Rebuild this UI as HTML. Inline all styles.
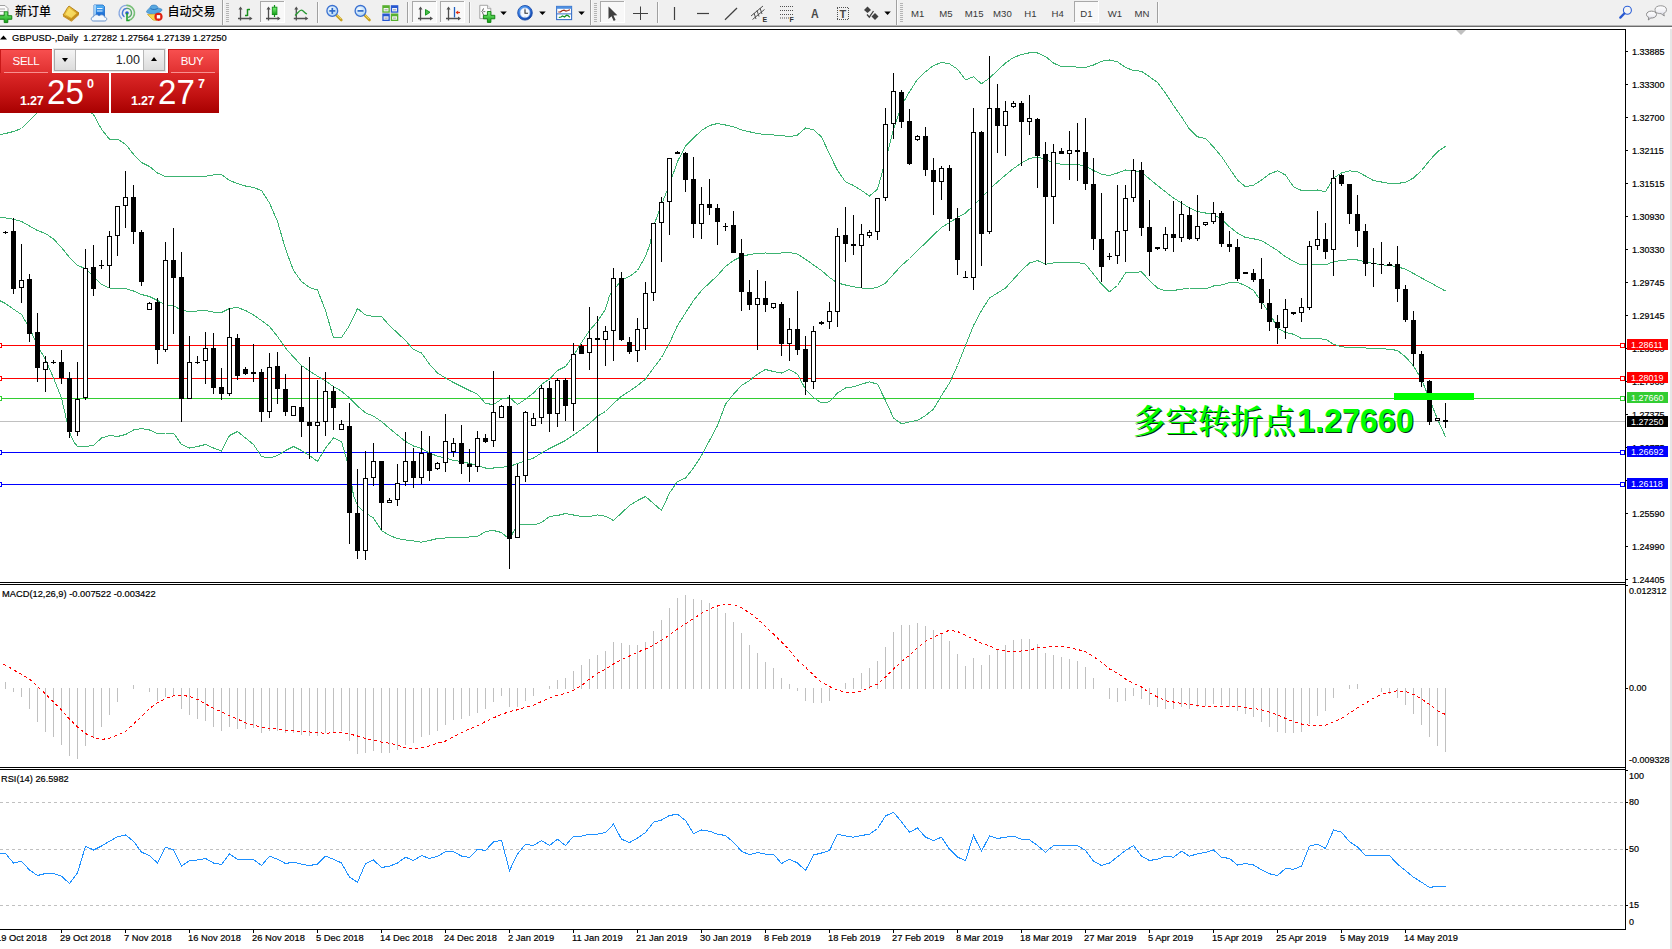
<!DOCTYPE html>
<html><head><meta charset="utf-8"><title>GBPUSD Daily</title>
<style>
html,body{margin:0;padding:0;background:#fff;}
body{width:1672px;height:949px;position:relative;overflow:hidden;font-family:"Liberation Sans","Noto Sans CJK SC",sans-serif;}
.ax,.dt,.ti{position:absolute;font-size:9.9px;line-height:12px;color:#000;white-space:nowrap;transform-origin:0 50%;}
.ax{transform:scaleX(0.908);}
.dt{transform:scaleX(0.945);}
.ax,.dt,.ti{-webkit-text-stroke:0.2px #000;}
.ti{transform:scaleX(0.935);}
.tag{position:absolute;left:1627px;width:41px;height:11px;line-height:11px;font-size:9.9px;color:#fff;white-space:nowrap;}
.tag span{position:absolute;left:3.8px;top:0.3px;transform:scaleX(0.908);transform-origin:0 50%;}
.big{position:absolute;font-weight:bold;color:#00ff00;white-space:nowrap;text-shadow:1px 1px 0 #0a2a14;}
.big.cj{font-family:"Noto Serif CJK SC",serif;font-weight:600;font-size:32.5px;line-height:40px;}
.big.dg{font-family:"Liberation Sans",sans-serif;font-size:34px;line-height:40px;transform:scaleX(0.95);transform-origin:0 0;}
#tb{position:absolute;left:0;top:0;width:1672px;height:25px;background:#f0f0f0;}
#tbl{position:absolute;left:0;top:25px;width:1672px;height:4px;background:linear-gradient(#b8b8b8 0,#b8b8b8 25%,#6c6c6c 25%,#6c6c6c 50%,#fff 50%);}
#oct{position:absolute;left:0;top:49px;width:219px;height:64px;}
#oct .bt{position:absolute;top:0;height:24px;line-height:25px;text-align:center;color:#fff;font-size:11.5px;letter-spacing:-0.3px;background:linear-gradient(#f85050,#e03030);box-shadow:inset 1px 1px 0 #c81818;}
#oct .ul{position:absolute;top:23px;height:1px;background:#f89090;z-index:3;}
#oct .sp{position:absolute;left:54px;top:0;width:111px;height:22px;box-sizing:border-box;border:1px solid #a8a8a8;background:#fff;box-shadow:0 0 0 1px #e8e8e8;}
#oct .sb{position:absolute;top:0;width:20px;height:20px;background:linear-gradient(#f4f4f4,#dcdcdc);}
#oct .sb:first-child{border-right:1px solid #b8b8b8;}
#oct .sb:last-child{border-left:1px solid #b8b8b8;}
#oct .sb i{position:absolute;left:7px;top:8px;width:0;height:0;border-left:3.5px solid transparent;border-right:3.5px solid transparent;}
#oct .sb i.dn{border-top:4px solid #000;}
#oct .sb i.up{border-bottom:4px solid #000;top:7px;}
#oct .sv{position:absolute;left:21px;right:24px;top:0;height:20px;line-height:20px;text-align:right;font-size:12.5px;color:#202020;}
#oct .pb{position:absolute;top:24px;height:40px;background:linear-gradient(#dc2828,#c01010 60%,#a80000);color:#fff;}
#oct .pb span{position:absolute;white-space:nowrap;}
#oct .s1{font-size:12.5px;font-weight:bold;top:21.5px;line-height:12px;letter-spacing:-0.2px;}
#oct .s2{font-size:34.8px;top:1px;line-height:36px;transform:scaleX(0.95);transform-origin:0 0;}
#oct .s3{font-size:12.5px;font-weight:bold;top:4px;line-height:14px;}
</style></head><body>
<svg width="1672" height="949" viewBox="0 0 1672 949" style="position:absolute;left:0;top:0"><rect x="0" y="29" width="1626" height="1" fill="#000"/>
<rect x="1625" y="29" width="1" height="901" fill="#000"/>
<rect x="0" y="582" width="1626" height="1" fill="#000"/>
<rect x="0" y="584" width="1626" height="1" fill="#000"/>
<rect x="0" y="767" width="1626" height="1" fill="#000"/>
<rect x="0" y="769" width="1626" height="1" fill="#000"/>
<rect x="0" y="929" width="1626" height="1" fill="#000"/>
<rect x="1670" y="26" width="2" height="923" fill="#e6e6e6"/>
<rect x="0" y="421" width="1625" height="1" fill="#c0c0c0"/>
<rect x="0" y="345" width="1625" height="1" fill="#ff0000"/>
<rect x="0" y="378" width="1625" height="1" fill="#ff0000"/>
<rect x="0" y="398" width="1625" height="1" fill="#32cd32"/>
<rect x="0" y="452" width="1625" height="1" fill="#0000ff"/>
<rect x="0" y="484" width="1625" height="1" fill="#0000ff"/>
<rect x="1620.5" y="343.5" width="4" height="4" fill="#fff" stroke="#ff0000" stroke-width="1"/>
<rect x="-2.5" y="343.5" width="4" height="4" fill="#fff" stroke="#ff0000" stroke-width="1"/>
<rect x="1620.5" y="376.5" width="4" height="4" fill="#fff" stroke="#ff0000" stroke-width="1"/>
<rect x="-2.5" y="376.5" width="4" height="4" fill="#fff" stroke="#ff0000" stroke-width="1"/>
<rect x="1620.5" y="396.5" width="4" height="4" fill="#fff" stroke="#32cd32" stroke-width="1"/>
<rect x="-2.5" y="396.5" width="4" height="4" fill="#fff" stroke="#32cd32" stroke-width="1"/>
<rect x="1620.5" y="450.5" width="4" height="4" fill="#fff" stroke="#0000ff" stroke-width="1"/>
<rect x="-2.5" y="450.5" width="4" height="4" fill="#fff" stroke="#0000ff" stroke-width="1"/>
<rect x="1620.5" y="482.5" width="4" height="4" fill="#fff" stroke="#0000ff" stroke-width="1"/>
<rect x="-2.5" y="482.5" width="4" height="4" fill="#fff" stroke="#0000ff" stroke-width="1"/>
<g shape-rendering="crispEdges">
<polyline points="-2.5,135.0 5.5,133.5 13.5,131.5 21.5,128.5 29.5,120.5 37.5,112.5 45.5,105.5 53.5,100.5 61.5,98.5 69.5,99.5 77.5,103.5 85.5,108.5 93.5,114.5 101.5,129.2 109.5,139.2 117.5,139.2 125.5,144.2 133.5,154.2 141.5,162.5 149.5,166.5 157.5,173.0 165.5,176.5 173.5,176.5 181.5,176.5 189.5,176.5 197.5,176.5 205.5,176.2 213.5,175.0 221.5,174.5 229.5,180.5 237.5,183.5 245.5,186.0 253.5,187.5 261.5,190.5 269.5,203.0 277.5,221.5 285.5,249.0 293.5,270.5 301.5,281.5 309.5,287.5 317.5,290.0 325.5,310.5 333.5,338.0 341.5,337.5 349.5,325.5 357.5,308.5 365.5,315.0 373.5,316.5 381.5,316.5 389.5,325.5 397.5,333.0 405.5,340.5 413.5,349.5 421.5,353.0 429.5,364.2 437.5,373.0 445.5,378.0 453.5,382.5 461.5,386.5 469.5,390.5 477.5,394.2 485.5,403.5 493.5,404.5 501.5,399.2 509.5,397.5 517.5,404.5 525.5,399.2 533.5,393.0 541.5,384.2 549.5,379.2 557.5,370.5 565.5,366.5 573.5,355.5 581.5,342.5 589.5,330.5 597.5,321.5 605.5,309.2 609.5,295.5 613.5,290.5 621.5,280.0 629.5,276.5 637.5,270.5 645.5,256.5 650.3,243.0 653.5,226.5 661.5,204.5 669.5,184.5 677.5,161.5 685.5,146.0 693.5,138.0 701.5,130.5 709.5,125.5 717.5,123.5 725.5,125.0 733.5,126.8 741.5,129.8 749.5,131.8 757.5,133.5 765.5,134.8 773.5,135.0 781.5,135.5 789.5,136.8 797.5,135.0 805.5,128.0 813.5,129.8 821.5,136.8 829.5,154.2 837.5,170.5 845.5,181.8 853.5,185.5 861.5,190.5 869.5,196.0 877.5,189.2 885.5,160.5 893.5,129.2 901.5,105.5 909.5,91.8 917.5,79.2 925.5,71.8 933.5,65.5 941.5,62.5 949.5,63.8 957.5,69.2 965.5,79.8 973.5,76.8 981.5,83.8 989.5,78.0 997.5,70.5 1005.5,63.0 1013.5,57.5 1021.5,54.5 1029.5,52.8 1037.5,53.0 1045.5,56.5 1053.5,63.0 1061.5,66.8 1069.5,66.2 1077.5,67.2 1085.5,67.5 1093.5,65.0 1101.5,61.2 1109.5,60.0 1117.5,61.8 1125.5,67.5 1133.5,70.5 1141.5,71.2 1149.5,76.8 1157.5,82.5 1165.5,93.0 1173.5,105.5 1181.5,116.8 1189.5,129.2 1197.5,136.8 1205.5,138.5 1213.5,147.0 1221.5,156.5 1229.5,168.5 1237.5,180.0 1245.5,186.8 1253.5,185.2 1261.5,180.0 1269.5,174.0 1277.5,170.8 1285.5,175.0 1293.5,186.8 1301.5,190.5 1309.5,190.8 1317.5,190.0 1325.5,191.8 1333.5,178.0 1341.5,173.0 1349.5,170.8 1357.5,171.8 1365.5,176.0 1373.5,180.5 1381.5,182.0 1389.5,183.5 1397.5,183.5 1405.5,182.2 1413.5,178.0 1421.5,170.5 1429.5,160.5 1437.5,151.8 1445.5,146.2" fill="none" stroke="#3cb371" stroke-width="1"/>
<polyline points="-2.5,217.5 5.5,218.0 13.5,219.2 21.5,221.5 29.5,226.0 37.5,230.5 45.5,233.5 53.5,239.0 61.5,247.5 69.5,257.5 77.5,265.5 85.5,268.5 93.5,276.5 101.5,284.5 109.5,288.0 117.5,288.5 125.5,288.5 133.5,291.0 141.5,294.5 149.5,296.5 157.5,300.5 165.5,305.0 173.5,305.5 181.5,310.5 189.5,311.5 197.5,311.0 205.5,310.5 213.5,312.2 221.5,312.5 229.5,308.5 237.5,307.5 245.5,310.5 253.5,315.0 261.5,320.5 269.5,326.5 277.5,336.5 285.5,348.0 293.5,357.0 301.5,365.5 309.5,371.0 317.5,376.2 325.5,381.0 333.5,386.5 341.5,391.2 349.5,398.0 357.5,406.0 365.5,412.8 373.5,416.2 381.5,421.5 389.5,428.5 397.5,435.0 405.5,441.5 413.5,446.0 421.5,448.5 429.5,453.0 437.5,456.2 445.5,458.0 453.5,460.5 461.5,461.5 469.5,463.5 477.5,465.5 485.5,468.0 493.5,468.0 501.5,467.2 509.5,466.5 517.5,463.5 525.5,461.0 533.5,458.0 541.5,453.0 549.5,448.5 557.5,444.5 565.5,440.5 573.5,435.0 581.5,429.5 589.5,423.5 597.5,416.2 605.5,411.5 613.5,403.5 621.5,396.2 629.5,391.2 637.5,385.5 645.5,379.2 653.5,368.0 661.5,357.5 669.5,343.0 677.5,325.5 685.5,313.0 693.5,300.5 701.5,290.5 709.5,283.0 717.5,275.5 725.5,266.5 733.5,260.5 741.5,256.5 749.5,254.5 757.5,253.5 765.5,253.0 773.5,253.5 781.5,253.0 789.5,252.5 797.5,254.2 805.5,259.2 813.5,265.0 821.5,270.5 829.5,277.5 837.5,283.0 845.5,285.0 853.5,286.8 861.5,288.0 869.5,288.8 877.5,287.5 885.5,283.0 893.5,274.2 901.5,265.5 909.5,258.5 917.5,250.5 925.5,243.0 933.5,235.0 941.5,227.5 949.5,222.5 957.5,217.5 965.5,213.0 973.5,205.5 981.5,198.0 989.5,189.2 997.5,182.0 1005.5,175.0 1013.5,168.5 1021.5,163.0 1029.5,158.5 1037.5,157.0 1045.5,159.2 1053.5,163.2 1061.5,164.2 1069.5,164.0 1077.5,164.5 1085.5,166.0 1093.5,170.5 1101.5,174.2 1109.5,175.5 1117.5,173.0 1125.5,170.0 1133.5,171.0 1141.5,171.8 1149.5,179.0 1157.5,185.5 1165.5,191.8 1173.5,198.0 1181.5,203.0 1189.5,208.0 1197.5,211.5 1205.5,213.0 1213.5,214.5 1221.5,219.2 1229.5,226.8 1237.5,233.0 1245.5,237.5 1253.5,238.8 1261.5,240.5 1269.5,245.5 1277.5,250.5 1285.5,256.8 1293.5,261.2 1301.5,265.0 1309.5,264.8 1317.5,264.2 1325.5,264.8 1333.5,261.8 1341.5,260.5 1349.5,259.8 1357.5,260.0 1365.5,261.8 1373.5,263.5 1381.5,264.8 1389.5,265.5 1397.5,266.8 1405.5,269.2 1413.5,273.5 1421.5,278.0 1429.5,282.2 1437.5,286.8 1445.5,291.0" fill="none" stroke="#3cb371" stroke-width="1"/>
<polyline points="-2.5,299.5 5.5,303.5 13.5,309.2 21.5,314.5 29.5,328.0 37.5,345.5 45.5,359.5 53.5,378.0 61.5,398.0 65.5,415.5 69.5,432.0 73.5,441.5 77.5,446.5 85.5,446.5 93.5,445.5 101.5,438.0 109.5,435.5 117.5,436.5 125.5,434.5 133.5,430.0 141.5,428.5 149.5,430.0 157.5,433.5 165.5,433.0 173.5,433.0 181.5,444.5 189.5,448.0 197.5,446.5 205.5,444.5 213.5,448.0 221.5,451.0 229.5,435.5 237.5,431.5 245.5,438.0 253.5,444.5 261.5,456.5 269.5,458.0 277.5,455.5 285.5,450.5 293.5,446.5 301.5,450.5 309.5,455.5 317.5,461.5 325.5,448.0 333.5,438.0 341.5,441.5 345.5,455.5 349.5,470.5 353.5,495.5 357.5,505.5 365.5,513.0 373.5,518.0 381.5,530.5 389.5,535.5 397.5,538.5 405.5,540.0 413.5,541.0 421.5,542.2 429.5,540.5 437.5,538.5 445.5,538.0 453.5,537.2 461.5,537.2 469.5,537.0 477.5,536.5 485.5,531.5 493.5,530.5 501.5,532.5 509.5,539.2 517.5,524.2 525.5,524.2 533.5,525.0 541.5,522.5 549.5,516.5 557.5,515.5 565.5,513.5 573.5,515.0 581.5,516.5 589.5,516.5 597.5,515.0 605.5,516.2 613.5,520.5 621.5,513.0 629.5,505.5 637.5,500.5 645.5,496.5 653.5,503.5 661.5,510.5 669.5,493.0 677.5,481.5 685.5,478.0 693.5,468.0 701.5,455.5 709.5,440.5 717.5,425.5 725.5,404.2 733.5,394.2 741.5,385.5 749.5,380.5 757.5,374.2 765.5,369.5 773.5,371.5 781.5,373.0 789.5,369.5 797.5,374.2 805.5,389.2 813.5,397.5 821.5,403.0 829.5,401.8 837.5,393.0 845.5,388.0 853.5,386.8 861.5,384.2 869.5,381.8 877.5,384.2 885.5,400.5 893.5,418.0 901.5,423.8 909.5,421.8 917.5,420.5 925.5,415.5 933.5,409.2 941.5,395.5 949.5,383.0 957.5,365.5 965.5,345.5 973.5,325.5 981.5,310.5 989.5,298.0 997.5,293.0 1005.5,288.0 1013.5,279.2 1021.5,270.5 1029.5,263.0 1037.5,260.5 1045.5,264.2 1053.5,263.0 1061.5,262.5 1069.5,262.5 1077.5,262.5 1085.5,264.2 1093.5,274.2 1101.5,284.2 1109.5,291.8 1117.5,285.5 1125.5,273.0 1133.5,272.5 1141.5,271.8 1149.5,280.5 1157.5,288.0 1165.5,291.0 1173.5,290.5 1181.5,289.2 1189.5,288.0 1197.5,288.0 1205.5,288.8 1213.5,286.0 1221.5,285.0 1229.5,282.5 1237.5,282.5 1245.5,285.5 1253.5,290.5 1261.5,301.8 1269.5,313.0 1277.5,328.0 1285.5,332.5 1293.5,334.2 1301.5,338.5 1309.5,338.8 1317.5,338.8 1325.5,339.2 1333.5,344.2 1341.5,346.8 1349.5,347.5 1357.5,347.5 1365.5,348.0 1373.5,348.5 1381.5,348.8 1389.5,349.2 1397.5,350.5 1405.5,356.8 1413.5,366.0 1421.5,379.2 1429.5,399.2 1437.5,419.2 1445.5,436.8" fill="none" stroke="#3cb371" stroke-width="1"/>
</g>
<g><rect x="5" y="231" width="1" height="3" fill="#000"/><rect x="3" y="232" width="5" height="1" fill="#000"/><rect x="13" y="218" width="1" height="76" fill="#000"/><rect x="11" y="231" width="5" height="58" fill="#000"/><rect x="21" y="244" width="1" height="59" fill="#000"/><rect x="19" y="280" width="5" height="8" fill="#000"/><rect x="20" y="281" width="3" height="6" fill="#fff"/><rect x="29" y="274" width="1" height="68" fill="#000"/><rect x="27" y="279" width="5" height="55" fill="#000"/><rect x="37" y="313" width="1" height="69" fill="#000"/><rect x="35" y="332" width="5" height="36" fill="#000"/><rect x="45" y="356" width="1" height="36" fill="#000"/><rect x="43" y="362" width="5" height="8" fill="#000"/><rect x="44" y="363" width="3" height="6" fill="#fff"/><rect x="53" y="360" width="1" height="4" fill="#000"/><rect x="51" y="362" width="5" height="1" fill="#000"/><rect x="61" y="350" width="1" height="34" fill="#000"/><rect x="59" y="362" width="5" height="16" fill="#000"/><rect x="69" y="372" width="1" height="66" fill="#000"/><rect x="67" y="378" width="5" height="54" fill="#000"/><rect x="77" y="362" width="1" height="74" fill="#000"/><rect x="75" y="399" width="5" height="33" fill="#000"/><rect x="76" y="400" width="3" height="31" fill="#fff"/><rect x="85" y="249" width="1" height="151" fill="#000"/><rect x="83" y="268" width="5" height="130" fill="#000"/><rect x="84" y="269" width="3" height="128" fill="#fff"/><rect x="93" y="245" width="1" height="51" fill="#000"/><rect x="91" y="267" width="5" height="22" fill="#000"/><rect x="101" y="260" width="1" height="9" fill="#000"/><rect x="99" y="265" width="5" height="1" fill="#000"/><rect x="109" y="231" width="1" height="57" fill="#000"/><rect x="107" y="236" width="5" height="30" fill="#000"/><rect x="108" y="237" width="3" height="28" fill="#fff"/><rect x="117" y="206" width="1" height="50" fill="#000"/><rect x="115" y="206" width="5" height="30" fill="#000"/><rect x="116" y="207" width="3" height="28" fill="#fff"/><rect x="125" y="171" width="1" height="57" fill="#000"/><rect x="123" y="197" width="5" height="9" fill="#000"/><rect x="124" y="198" width="3" height="7" fill="#fff"/><rect x="133" y="185" width="1" height="59" fill="#000"/><rect x="131" y="197" width="5" height="35" fill="#000"/><rect x="141" y="230" width="1" height="56" fill="#000"/><rect x="139" y="232" width="5" height="50" fill="#000"/><rect x="149" y="302" width="1" height="8" fill="#000"/><rect x="147" y="303" width="5" height="7" fill="#000"/><rect x="148" y="304" width="3" height="5" fill="#fff"/><rect x="157" y="298" width="1" height="66" fill="#000"/><rect x="155" y="302" width="5" height="48" fill="#000"/><rect x="165" y="242" width="1" height="110" fill="#000"/><rect x="163" y="260" width="5" height="90" fill="#000"/><rect x="164" y="261" width="3" height="88" fill="#fff"/><rect x="173" y="228" width="1" height="106" fill="#000"/><rect x="171" y="260" width="5" height="18" fill="#000"/><rect x="181" y="252" width="1" height="170" fill="#000"/><rect x="179" y="277" width="5" height="122" fill="#000"/><rect x="189" y="336" width="1" height="63" fill="#000"/><rect x="187" y="362" width="5" height="37" fill="#000"/><rect x="188" y="363" width="3" height="35" fill="#fff"/><rect x="197" y="356" width="1" height="8" fill="#000"/><rect x="195" y="362" width="5" height="1" fill="#000"/><rect x="205" y="332" width="1" height="52" fill="#000"/><rect x="203" y="348" width="5" height="13" fill="#000"/><rect x="204" y="349" width="3" height="11" fill="#fff"/><rect x="213" y="333" width="1" height="61" fill="#000"/><rect x="211" y="348" width="5" height="40" fill="#000"/><rect x="221" y="368" width="1" height="32" fill="#000"/><rect x="219" y="387" width="5" height="7" fill="#000"/><rect x="229" y="308" width="1" height="88" fill="#000"/><rect x="227" y="337" width="5" height="57" fill="#000"/><rect x="228" y="338" width="3" height="55" fill="#fff"/><rect x="237" y="334" width="1" height="46" fill="#000"/><rect x="235" y="338" width="5" height="38" fill="#000"/><rect x="245" y="367" width="1" height="8" fill="#000"/><rect x="243" y="369" width="5" height="5" fill="#000"/><rect x="253" y="344" width="1" height="38" fill="#000"/><rect x="251" y="372" width="5" height="2" fill="#000"/><rect x="261" y="369" width="1" height="53" fill="#000"/><rect x="259" y="372" width="5" height="40" fill="#000"/><rect x="269" y="353" width="1" height="65" fill="#000"/><rect x="267" y="367" width="5" height="45" fill="#000"/><rect x="268" y="368" width="3" height="43" fill="#fff"/><rect x="277" y="352" width="1" height="52" fill="#000"/><rect x="275" y="366" width="5" height="23" fill="#000"/><rect x="285" y="374" width="1" height="42" fill="#000"/><rect x="283" y="389" width="5" height="23" fill="#000"/><rect x="293" y="406" width="1" height="10" fill="#000"/><rect x="291" y="406" width="5" height="10" fill="#000"/><rect x="292" y="407" width="3" height="8" fill="#fff"/><rect x="301" y="366" width="1" height="71" fill="#000"/><rect x="299" y="407" width="5" height="15" fill="#000"/><rect x="309" y="357" width="1" height="102" fill="#000"/><rect x="307" y="422" width="5" height="4" fill="#000"/><rect x="317" y="380" width="1" height="72" fill="#000"/><rect x="315" y="422" width="5" height="4" fill="#000"/><rect x="316" y="423" width="3" height="2" fill="#fff"/><rect x="325" y="372" width="1" height="64" fill="#000"/><rect x="323" y="391" width="5" height="31" fill="#000"/><rect x="324" y="392" width="3" height="29" fill="#fff"/><rect x="333" y="386" width="1" height="44" fill="#000"/><rect x="331" y="391" width="5" height="17" fill="#000"/><rect x="341" y="420" width="1" height="10" fill="#000"/><rect x="339" y="424" width="5" height="6" fill="#000"/><rect x="340" y="425" width="3" height="4" fill="#fff"/><rect x="349" y="403" width="1" height="141" fill="#000"/><rect x="347" y="426" width="5" height="87" fill="#000"/><rect x="357" y="469" width="1" height="90" fill="#000"/><rect x="355" y="513" width="5" height="38" fill="#000"/><rect x="365" y="451" width="1" height="109" fill="#000"/><rect x="363" y="478" width="5" height="73" fill="#000"/><rect x="364" y="479" width="3" height="71" fill="#fff"/><rect x="373" y="443" width="1" height="43" fill="#000"/><rect x="371" y="461" width="5" height="17" fill="#000"/><rect x="372" y="462" width="3" height="15" fill="#fff"/><rect x="381" y="461" width="1" height="69" fill="#000"/><rect x="379" y="461" width="5" height="42" fill="#000"/><rect x="389" y="498" width="1" height="4" fill="#000"/><rect x="387" y="500" width="5" height="3" fill="#000"/><rect x="388" y="501" width="3" height="1" fill="#fff"/><rect x="397" y="464" width="1" height="42" fill="#000"/><rect x="395" y="483" width="5" height="17" fill="#000"/><rect x="396" y="484" width="3" height="15" fill="#fff"/><rect x="405" y="432" width="1" height="54" fill="#000"/><rect x="403" y="461" width="5" height="21" fill="#000"/><rect x="404" y="462" width="3" height="19" fill="#fff"/><rect x="413" y="448" width="1" height="40" fill="#000"/><rect x="411" y="461" width="5" height="17" fill="#000"/><rect x="421" y="431" width="1" height="53" fill="#000"/><rect x="419" y="453" width="5" height="25" fill="#000"/><rect x="420" y="454" width="3" height="23" fill="#fff"/><rect x="429" y="436" width="1" height="45" fill="#000"/><rect x="427" y="453" width="5" height="18" fill="#000"/><rect x="437" y="462" width="1" height="8" fill="#000"/><rect x="435" y="463" width="5" height="6" fill="#000"/><rect x="436" y="464" width="3" height="4" fill="#fff"/><rect x="445" y="414" width="1" height="58" fill="#000"/><rect x="443" y="441" width="5" height="22" fill="#000"/><rect x="444" y="442" width="3" height="20" fill="#fff"/><rect x="453" y="438" width="1" height="19" fill="#000"/><rect x="451" y="443" width="5" height="9" fill="#000"/><rect x="452" y="444" width="3" height="7" fill="#fff"/><rect x="461" y="425" width="1" height="49" fill="#000"/><rect x="459" y="443" width="5" height="21" fill="#000"/><rect x="469" y="449" width="1" height="33" fill="#000"/><rect x="467" y="464" width="5" height="3" fill="#000"/><rect x="477" y="431" width="1" height="41" fill="#000"/><rect x="475" y="438" width="5" height="29" fill="#000"/><rect x="476" y="439" width="3" height="27" fill="#fff"/><rect x="485" y="434" width="1" height="9" fill="#000"/><rect x="483" y="438" width="5" height="4" fill="#000"/><rect x="493" y="371" width="1" height="76" fill="#000"/><rect x="491" y="412" width="5" height="29" fill="#000"/><rect x="492" y="413" width="3" height="27" fill="#fff"/><rect x="501" y="405" width="1" height="13" fill="#000"/><rect x="499" y="406" width="5" height="12" fill="#000"/><rect x="500" y="407" width="3" height="10" fill="#fff"/><rect x="509" y="395" width="1" height="174" fill="#000"/><rect x="507" y="406" width="5" height="133" fill="#000"/><rect x="517" y="464" width="1" height="74" fill="#000"/><rect x="515" y="476" width="5" height="62" fill="#000"/><rect x="516" y="477" width="3" height="60" fill="#fff"/><rect x="525" y="411" width="1" height="71" fill="#000"/><rect x="523" y="412" width="5" height="64" fill="#000"/><rect x="524" y="413" width="3" height="62" fill="#fff"/><rect x="533" y="413" width="1" height="13" fill="#000"/><rect x="531" y="418" width="5" height="8" fill="#000"/><rect x="532" y="419" width="3" height="6" fill="#fff"/><rect x="541" y="385" width="1" height="39" fill="#000"/><rect x="539" y="388" width="5" height="30" fill="#000"/><rect x="540" y="389" width="3" height="28" fill="#fff"/><rect x="549" y="381" width="1" height="51" fill="#000"/><rect x="547" y="388" width="5" height="26" fill="#000"/><rect x="557" y="378" width="1" height="49" fill="#000"/><rect x="555" y="380" width="5" height="34" fill="#000"/><rect x="556" y="381" width="3" height="32" fill="#fff"/><rect x="565" y="378" width="1" height="43" fill="#000"/><rect x="563" y="380" width="5" height="26" fill="#000"/><rect x="573" y="343" width="1" height="88" fill="#000"/><rect x="571" y="354" width="5" height="50" fill="#000"/><rect x="572" y="355" width="3" height="48" fill="#fff"/><rect x="581" y="344" width="1" height="10" fill="#000"/><rect x="579" y="346" width="5" height="8" fill="#000"/><rect x="589" y="307" width="1" height="63" fill="#000"/><rect x="587" y="338" width="5" height="15" fill="#000"/><rect x="588" y="339" width="3" height="13" fill="#fff"/><rect x="597" y="316" width="1" height="136" fill="#000"/><rect x="595" y="338" width="5" height="2" fill="#000"/><rect x="605" y="326" width="1" height="40" fill="#000"/><rect x="603" y="331" width="5" height="9" fill="#000"/><rect x="604" y="332" width="3" height="7" fill="#fff"/><rect x="613" y="268" width="1" height="93" fill="#000"/><rect x="611" y="278" width="5" height="53" fill="#000"/><rect x="612" y="279" width="3" height="51" fill="#fff"/><rect x="621" y="272" width="1" height="69" fill="#000"/><rect x="619" y="278" width="5" height="62" fill="#000"/><rect x="629" y="337" width="1" height="17" fill="#000"/><rect x="627" y="342" width="5" height="10" fill="#000"/><rect x="637" y="318" width="1" height="44" fill="#000"/><rect x="635" y="329" width="5" height="22" fill="#000"/><rect x="636" y="330" width="3" height="20" fill="#fff"/><rect x="645" y="282" width="1" height="68" fill="#000"/><rect x="643" y="293" width="5" height="36" fill="#000"/><rect x="644" y="294" width="3" height="34" fill="#fff"/><rect x="653" y="223" width="1" height="78" fill="#000"/><rect x="651" y="223" width="5" height="70" fill="#000"/><rect x="652" y="224" width="3" height="68" fill="#fff"/><rect x="661" y="197" width="1" height="65" fill="#000"/><rect x="659" y="202" width="5" height="21" fill="#000"/><rect x="660" y="203" width="3" height="19" fill="#fff"/><rect x="669" y="158" width="1" height="77" fill="#000"/><rect x="667" y="158" width="5" height="44" fill="#000"/><rect x="668" y="159" width="3" height="42" fill="#fff"/><rect x="677" y="151" width="1" height="3" fill="#000"/><rect x="675" y="152" width="5" height="2" fill="#000"/><rect x="685" y="152" width="1" height="40" fill="#000"/><rect x="683" y="153" width="5" height="27" fill="#000"/><rect x="693" y="157" width="1" height="81" fill="#000"/><rect x="691" y="179" width="5" height="45" fill="#000"/><rect x="701" y="187" width="1" height="52" fill="#000"/><rect x="699" y="204" width="5" height="20" fill="#000"/><rect x="700" y="205" width="3" height="18" fill="#fff"/><rect x="709" y="179" width="1" height="36" fill="#000"/><rect x="707" y="204" width="5" height="4" fill="#000"/><rect x="717" y="204" width="1" height="41" fill="#000"/><rect x="715" y="208" width="5" height="14" fill="#000"/><rect x="725" y="223" width="1" height="8" fill="#000"/><rect x="723" y="226" width="5" height="1" fill="#000"/><rect x="733" y="211" width="1" height="42" fill="#000"/><rect x="731" y="225" width="5" height="28" fill="#000"/><rect x="741" y="239" width="1" height="72" fill="#000"/><rect x="739" y="253" width="5" height="39" fill="#000"/><rect x="749" y="280" width="1" height="30" fill="#000"/><rect x="747" y="292" width="5" height="13" fill="#000"/><rect x="757" y="270" width="1" height="80" fill="#000"/><rect x="755" y="298" width="5" height="7" fill="#000"/><rect x="756" y="299" width="3" height="5" fill="#fff"/><rect x="765" y="281" width="1" height="31" fill="#000"/><rect x="763" y="298" width="5" height="7" fill="#000"/><rect x="773" y="303" width="1" height="6" fill="#000"/><rect x="771" y="303" width="5" height="5" fill="#000"/><rect x="772" y="304" width="3" height="3" fill="#fff"/><rect x="781" y="302" width="1" height="54" fill="#000"/><rect x="779" y="304" width="5" height="40" fill="#000"/><rect x="789" y="318" width="1" height="43" fill="#000"/><rect x="787" y="329" width="5" height="15" fill="#000"/><rect x="788" y="330" width="3" height="13" fill="#fff"/><rect x="797" y="291" width="1" height="64" fill="#000"/><rect x="795" y="329" width="5" height="21" fill="#000"/><rect x="805" y="336" width="1" height="59" fill="#000"/><rect x="803" y="349" width="5" height="33" fill="#000"/><rect x="813" y="326" width="1" height="63" fill="#000"/><rect x="811" y="331" width="5" height="51" fill="#000"/><rect x="812" y="332" width="3" height="49" fill="#fff"/><rect x="821" y="321" width="1" height="4" fill="#000"/><rect x="819" y="322" width="5" height="2" fill="#000"/><rect x="829" y="302" width="1" height="27" fill="#000"/><rect x="827" y="311" width="5" height="11" fill="#000"/><rect x="828" y="312" width="3" height="9" fill="#fff"/><rect x="837" y="228" width="1" height="99" fill="#000"/><rect x="835" y="236" width="5" height="76" fill="#000"/><rect x="836" y="237" width="3" height="74" fill="#fff"/><rect x="845" y="207" width="1" height="55" fill="#000"/><rect x="843" y="235" width="5" height="9" fill="#000"/><rect x="853" y="215" width="1" height="40" fill="#000"/><rect x="851" y="244" width="5" height="2" fill="#000"/><rect x="861" y="224" width="1" height="64" fill="#000"/><rect x="859" y="234" width="5" height="12" fill="#000"/><rect x="860" y="235" width="3" height="10" fill="#fff"/><rect x="869" y="230" width="1" height="8" fill="#000"/><rect x="867" y="232" width="5" height="4" fill="#000"/><rect x="868" y="233" width="3" height="2" fill="#fff"/><rect x="877" y="198" width="1" height="42" fill="#000"/><rect x="875" y="198" width="5" height="34" fill="#000"/><rect x="876" y="199" width="3" height="32" fill="#fff"/><rect x="885" y="108" width="1" height="93" fill="#000"/><rect x="883" y="124" width="5" height="74" fill="#000"/><rect x="884" y="125" width="3" height="72" fill="#fff"/><rect x="893" y="73" width="1" height="66" fill="#000"/><rect x="891" y="91" width="5" height="33" fill="#000"/><rect x="892" y="92" width="3" height="31" fill="#fff"/><rect x="901" y="90" width="1" height="38" fill="#000"/><rect x="899" y="92" width="5" height="30" fill="#000"/><rect x="909" y="109" width="1" height="56" fill="#000"/><rect x="907" y="121" width="5" height="43" fill="#000"/><rect x="917" y="135" width="1" height="6" fill="#000"/><rect x="915" y="136" width="5" height="4" fill="#000"/><rect x="916" y="137" width="3" height="2" fill="#fff"/><rect x="925" y="127" width="1" height="49" fill="#000"/><rect x="923" y="136" width="5" height="34" fill="#000"/><rect x="933" y="158" width="1" height="57" fill="#000"/><rect x="931" y="170" width="5" height="12" fill="#000"/><rect x="941" y="166" width="1" height="34" fill="#000"/><rect x="939" y="168" width="5" height="14" fill="#000"/><rect x="940" y="169" width="3" height="12" fill="#fff"/><rect x="949" y="165" width="1" height="66" fill="#000"/><rect x="947" y="168" width="5" height="51" fill="#000"/><rect x="957" y="208" width="1" height="67" fill="#000"/><rect x="955" y="218" width="5" height="42" fill="#000"/><rect x="965" y="271" width="1" height="7" fill="#000"/><rect x="963" y="277" width="5" height="1" fill="#000"/><rect x="973" y="108" width="1" height="182" fill="#000"/><rect x="971" y="132" width="5" height="146" fill="#000"/><rect x="972" y="133" width="3" height="144" fill="#fff"/><rect x="981" y="131" width="1" height="135" fill="#000"/><rect x="979" y="132" width="5" height="102" fill="#000"/><rect x="989" y="56" width="1" height="178" fill="#000"/><rect x="987" y="108" width="5" height="124" fill="#000"/><rect x="988" y="109" width="3" height="122" fill="#fff"/><rect x="997" y="84" width="1" height="69" fill="#000"/><rect x="995" y="108" width="5" height="18" fill="#000"/><rect x="1005" y="101" width="1" height="55" fill="#000"/><rect x="1003" y="111" width="5" height="15" fill="#000"/><rect x="1004" y="112" width="3" height="13" fill="#fff"/><rect x="1013" y="101" width="1" height="7" fill="#000"/><rect x="1011" y="103" width="5" height="4" fill="#000"/><rect x="1012" y="104" width="3" height="2" fill="#fff"/><rect x="1021" y="101" width="1" height="65" fill="#000"/><rect x="1019" y="103" width="5" height="19" fill="#000"/><rect x="1029" y="95" width="1" height="40" fill="#000"/><rect x="1027" y="118" width="5" height="4" fill="#000"/><rect x="1028" y="119" width="3" height="2" fill="#fff"/><rect x="1037" y="118" width="1" height="70" fill="#000"/><rect x="1035" y="119" width="5" height="37" fill="#000"/><rect x="1045" y="142" width="1" height="123" fill="#000"/><rect x="1043" y="154" width="5" height="43" fill="#000"/><rect x="1053" y="144" width="1" height="80" fill="#000"/><rect x="1051" y="152" width="5" height="45" fill="#000"/><rect x="1052" y="153" width="3" height="43" fill="#fff"/><rect x="1061" y="148" width="1" height="6" fill="#000"/><rect x="1059" y="151" width="5" height="3" fill="#000"/><rect x="1069" y="131" width="1" height="49" fill="#000"/><rect x="1067" y="150" width="5" height="4" fill="#000"/><rect x="1068" y="151" width="3" height="2" fill="#fff"/><rect x="1077" y="123" width="1" height="58" fill="#000"/><rect x="1075" y="150" width="5" height="2" fill="#000"/><rect x="1085" y="118" width="1" height="72" fill="#000"/><rect x="1083" y="152" width="5" height="32" fill="#000"/><rect x="1093" y="158" width="1" height="92" fill="#000"/><rect x="1091" y="184" width="5" height="55" fill="#000"/><rect x="1101" y="193" width="1" height="89" fill="#000"/><rect x="1099" y="239" width="5" height="28" fill="#000"/><rect x="1109" y="253" width="1" height="7" fill="#000"/><rect x="1107" y="256" width="5" height="1" fill="#000"/><rect x="1117" y="185" width="1" height="79" fill="#000"/><rect x="1115" y="231" width="5" height="25" fill="#000"/><rect x="1116" y="232" width="3" height="23" fill="#fff"/><rect x="1125" y="185" width="1" height="77" fill="#000"/><rect x="1123" y="198" width="5" height="33" fill="#000"/><rect x="1124" y="199" width="3" height="31" fill="#fff"/><rect x="1133" y="159" width="1" height="43" fill="#000"/><rect x="1131" y="170" width="5" height="28" fill="#000"/><rect x="1132" y="171" width="3" height="26" fill="#fff"/><rect x="1141" y="162" width="1" height="74" fill="#000"/><rect x="1139" y="170" width="5" height="58" fill="#000"/><rect x="1149" y="200" width="1" height="76" fill="#000"/><rect x="1147" y="227" width="5" height="25" fill="#000"/><rect x="1157" y="247" width="1" height="3" fill="#000"/><rect x="1155" y="247" width="5" height="2" fill="#000"/><rect x="1165" y="227" width="1" height="24" fill="#000"/><rect x="1163" y="234" width="5" height="15" fill="#000"/><rect x="1164" y="235" width="3" height="13" fill="#fff"/><rect x="1173" y="201" width="1" height="51" fill="#000"/><rect x="1171" y="234" width="5" height="4" fill="#000"/><rect x="1181" y="201" width="1" height="41" fill="#000"/><rect x="1179" y="214" width="5" height="24" fill="#000"/><rect x="1180" y="215" width="3" height="22" fill="#fff"/><rect x="1189" y="207" width="1" height="33" fill="#000"/><rect x="1187" y="215" width="5" height="24" fill="#000"/><rect x="1197" y="195" width="1" height="46" fill="#000"/><rect x="1195" y="226" width="5" height="13" fill="#000"/><rect x="1196" y="227" width="3" height="11" fill="#fff"/><rect x="1205" y="222" width="1" height="4" fill="#000"/><rect x="1203" y="222" width="5" height="3" fill="#000"/><rect x="1204" y="223" width="3" height="1" fill="#fff"/><rect x="1213" y="202" width="1" height="22" fill="#000"/><rect x="1211" y="213" width="5" height="9" fill="#000"/><rect x="1212" y="214" width="3" height="7" fill="#fff"/><rect x="1221" y="211" width="1" height="36" fill="#000"/><rect x="1219" y="213" width="5" height="31" fill="#000"/><rect x="1229" y="231" width="1" height="21" fill="#000"/><rect x="1227" y="244" width="5" height="3" fill="#000"/><rect x="1237" y="239" width="1" height="42" fill="#000"/><rect x="1235" y="247" width="5" height="32" fill="#000"/><rect x="1245" y="272" width="1" height="2" fill="#000"/><rect x="1243" y="272" width="5" height="2" fill="#000"/><rect x="1253" y="269" width="1" height="13" fill="#000"/><rect x="1251" y="273" width="5" height="7" fill="#000"/><rect x="1261" y="258" width="1" height="51" fill="#000"/><rect x="1259" y="279" width="5" height="24" fill="#000"/><rect x="1269" y="289" width="1" height="42" fill="#000"/><rect x="1267" y="303" width="5" height="19" fill="#000"/><rect x="1277" y="315" width="1" height="29" fill="#000"/><rect x="1275" y="322" width="5" height="6" fill="#000"/><rect x="1285" y="299" width="1" height="40" fill="#000"/><rect x="1283" y="309" width="5" height="19" fill="#000"/><rect x="1284" y="310" width="3" height="17" fill="#fff"/><rect x="1293" y="312" width="1" height="3" fill="#000"/><rect x="1291" y="312" width="5" height="2" fill="#000"/><rect x="1301" y="298" width="1" height="24" fill="#000"/><rect x="1299" y="307" width="5" height="6" fill="#000"/><rect x="1300" y="308" width="3" height="4" fill="#fff"/><rect x="1309" y="241" width="1" height="69" fill="#000"/><rect x="1307" y="246" width="5" height="62" fill="#000"/><rect x="1308" y="247" width="3" height="60" fill="#fff"/><rect x="1317" y="211" width="1" height="39" fill="#000"/><rect x="1315" y="239" width="5" height="7" fill="#000"/><rect x="1316" y="240" width="3" height="5" fill="#fff"/><rect x="1325" y="223" width="1" height="36" fill="#000"/><rect x="1323" y="239" width="5" height="13" fill="#000"/><rect x="1333" y="170" width="1" height="106" fill="#000"/><rect x="1331" y="178" width="5" height="72" fill="#000"/><rect x="1332" y="179" width="3" height="70" fill="#fff"/><rect x="1341" y="174" width="1" height="12" fill="#000"/><rect x="1339" y="175" width="5" height="9" fill="#000"/><rect x="1349" y="184" width="1" height="40" fill="#000"/><rect x="1347" y="184" width="5" height="30" fill="#000"/><rect x="1357" y="195" width="1" height="52" fill="#000"/><rect x="1355" y="214" width="5" height="17" fill="#000"/><rect x="1365" y="224" width="1" height="52" fill="#000"/><rect x="1363" y="231" width="5" height="33" fill="#000"/><rect x="1373" y="248" width="1" height="39" fill="#000"/><rect x="1371" y="263" width="5" height="1" fill="#000"/><rect x="1381" y="242" width="1" height="32" fill="#000"/><rect x="1379" y="264" width="5" height="1" fill="#000"/><rect x="1389" y="262" width="1" height="4" fill="#000"/><rect x="1387" y="264" width="5" height="2" fill="#000"/><rect x="1397" y="246" width="1" height="56" fill="#000"/><rect x="1395" y="264" width="5" height="25" fill="#000"/><rect x="1405" y="285" width="1" height="37" fill="#000"/><rect x="1403" y="289" width="5" height="31" fill="#000"/><rect x="1413" y="311" width="1" height="55" fill="#000"/><rect x="1411" y="320" width="5" height="34" fill="#000"/><rect x="1421" y="351" width="1" height="36" fill="#000"/><rect x="1419" y="354" width="5" height="28" fill="#000"/><rect x="1429" y="380" width="1" height="45" fill="#000"/><rect x="1427" y="381" width="5" height="41" fill="#000"/><rect x="1437" y="418" width="1" height="3" fill="#000"/><rect x="1435" y="418" width="5" height="3" fill="#000"/><rect x="1436" y="419" width="3" height="1" fill="#fff"/><rect x="1445" y="403" width="1" height="25" fill="#000"/><rect x="1443" y="420" width="5" height="2" fill="#000"/></g>
<rect x="1394" y="393" width="80" height="7" fill="#00ff00"/>
<g><rect x="5" y="682" width="1" height="7" fill="#c0c0c0"/><rect x="13" y="688" width="1" height="4" fill="#c0c0c0"/><rect x="21" y="688" width="1" height="9" fill="#c0c0c0"/><rect x="29" y="688" width="1" height="21" fill="#c0c0c0"/><rect x="37" y="688" width="1" height="34" fill="#c0c0c0"/><rect x="45" y="688" width="1" height="44" fill="#c0c0c0"/><rect x="53" y="688" width="1" height="49" fill="#c0c0c0"/><rect x="61" y="688" width="1" height="57" fill="#c0c0c0"/><rect x="69" y="688" width="1" height="68" fill="#c0c0c0"/><rect x="77" y="688" width="1" height="71" fill="#c0c0c0"/><rect x="85" y="688" width="1" height="58" fill="#c0c0c0"/><rect x="93" y="688" width="1" height="49" fill="#c0c0c0"/><rect x="101" y="688" width="1" height="39" fill="#c0c0c0"/><rect x="109" y="688" width="1" height="27" fill="#c0c0c0"/><rect x="117" y="688" width="1" height="14" fill="#c0c0c0"/><rect x="133" y="685" width="1" height="4" fill="#c0c0c0"/><rect x="149" y="688" width="1" height="4" fill="#c0c0c0"/><rect x="157" y="688" width="1" height="13" fill="#c0c0c0"/><rect x="165" y="688" width="1" height="9" fill="#c0c0c0"/><rect x="173" y="688" width="1" height="7" fill="#c0c0c0"/><rect x="181" y="688" width="1" height="21" fill="#c0c0c0"/><rect x="189" y="688" width="1" height="27" fill="#c0c0c0"/><rect x="197" y="688" width="1" height="31" fill="#c0c0c0"/><rect x="205" y="688" width="1" height="33" fill="#c0c0c0"/><rect x="213" y="688" width="1" height="39" fill="#c0c0c0"/><rect x="221" y="688" width="1" height="43" fill="#c0c0c0"/><rect x="229" y="688" width="1" height="39" fill="#c0c0c0"/><rect x="237" y="688" width="1" height="41" fill="#c0c0c0"/><rect x="245" y="688" width="1" height="41" fill="#c0c0c0"/><rect x="253" y="688" width="1" height="40" fill="#c0c0c0"/><rect x="261" y="688" width="1" height="45" fill="#c0c0c0"/><rect x="269" y="688" width="1" height="43" fill="#c0c0c0"/><rect x="277" y="688" width="1" height="43" fill="#c0c0c0"/><rect x="285" y="688" width="1" height="45" fill="#c0c0c0"/><rect x="293" y="688" width="1" height="45" fill="#c0c0c0"/><rect x="301" y="688" width="1" height="47" fill="#c0c0c0"/><rect x="309" y="688" width="1" height="48" fill="#c0c0c0"/><rect x="317" y="688" width="1" height="48" fill="#c0c0c0"/><rect x="325" y="688" width="1" height="45" fill="#c0c0c0"/><rect x="333" y="688" width="1" height="44" fill="#c0c0c0"/><rect x="341" y="688" width="1" height="43" fill="#c0c0c0"/><rect x="349" y="688" width="1" height="53" fill="#c0c0c0"/><rect x="357" y="688" width="1" height="66" fill="#c0c0c0"/><rect x="365" y="688" width="1" height="65" fill="#c0c0c0"/><rect x="373" y="688" width="1" height="63" fill="#c0c0c0"/><rect x="381" y="688" width="1" height="65" fill="#c0c0c0"/><rect x="389" y="688" width="1" height="65" fill="#c0c0c0"/><rect x="397" y="688" width="1" height="62" fill="#c0c0c0"/><rect x="405" y="688" width="1" height="57" fill="#c0c0c0"/><rect x="413" y="688" width="1" height="55" fill="#c0c0c0"/><rect x="421" y="688" width="1" height="49" fill="#c0c0c0"/><rect x="429" y="688" width="1" height="47" fill="#c0c0c0"/><rect x="437" y="688" width="1" height="43" fill="#c0c0c0"/><rect x="445" y="688" width="1" height="37" fill="#c0c0c0"/><rect x="453" y="688" width="1" height="32" fill="#c0c0c0"/><rect x="461" y="688" width="1" height="31" fill="#c0c0c0"/><rect x="469" y="688" width="1" height="28" fill="#c0c0c0"/><rect x="477" y="688" width="1" height="25" fill="#c0c0c0"/><rect x="485" y="688" width="1" height="21" fill="#c0c0c0"/><rect x="493" y="688" width="1" height="14" fill="#c0c0c0"/><rect x="501" y="688" width="1" height="8" fill="#c0c0c0"/><rect x="509" y="688" width="1" height="19" fill="#c0c0c0"/><rect x="517" y="688" width="1" height="19" fill="#c0c0c0"/><rect x="525" y="688" width="1" height="13" fill="#c0c0c0"/><rect x="533" y="688" width="1" height="8" fill="#c0c0c0"/><rect x="549" y="686" width="1" height="3" fill="#c0c0c0"/><rect x="557" y="680" width="1" height="9" fill="#c0c0c0"/><rect x="565" y="678" width="1" height="11" fill="#c0c0c0"/><rect x="573" y="671" width="1" height="18" fill="#c0c0c0"/><rect x="581" y="665" width="1" height="24" fill="#c0c0c0"/><rect x="589" y="659" width="1" height="30" fill="#c0c0c0"/><rect x="597" y="655" width="1" height="34" fill="#c0c0c0"/><rect x="605" y="651" width="1" height="38" fill="#c0c0c0"/><rect x="613" y="642" width="1" height="47" fill="#c0c0c0"/><rect x="621" y="643" width="1" height="46" fill="#c0c0c0"/><rect x="629" y="645" width="1" height="44" fill="#c0c0c0"/><rect x="637" y="645" width="1" height="44" fill="#c0c0c0"/><rect x="645" y="642" width="1" height="47" fill="#c0c0c0"/><rect x="653" y="631" width="1" height="58" fill="#c0c0c0"/><rect x="661" y="620" width="1" height="69" fill="#c0c0c0"/><rect x="669" y="608" width="1" height="81" fill="#c0c0c0"/><rect x="677" y="598" width="1" height="91" fill="#c0c0c0"/><rect x="685" y="595" width="1" height="94" fill="#c0c0c0"/><rect x="693" y="599" width="1" height="90" fill="#c0c0c0"/><rect x="701" y="600" width="1" height="89" fill="#c0c0c0"/><rect x="709" y="603" width="1" height="86" fill="#c0c0c0"/><rect x="717" y="608" width="1" height="81" fill="#c0c0c0"/><rect x="725" y="613" width="1" height="76" fill="#c0c0c0"/><rect x="733" y="622" width="1" height="67" fill="#c0c0c0"/><rect x="741" y="633" width="1" height="56" fill="#c0c0c0"/><rect x="749" y="645" width="1" height="44" fill="#c0c0c0"/><rect x="757" y="653" width="1" height="36" fill="#c0c0c0"/><rect x="765" y="662" width="1" height="27" fill="#c0c0c0"/><rect x="773" y="668" width="1" height="21" fill="#c0c0c0"/><rect x="781" y="678" width="1" height="11" fill="#c0c0c0"/><rect x="789" y="684" width="1" height="5" fill="#c0c0c0"/><rect x="797" y="688" width="1" height="3" fill="#c0c0c0"/><rect x="805" y="688" width="1" height="13" fill="#c0c0c0"/><rect x="813" y="688" width="1" height="15" fill="#c0c0c0"/><rect x="821" y="688" width="1" height="15" fill="#c0c0c0"/><rect x="829" y="688" width="1" height="13" fill="#c0c0c0"/><rect x="845" y="683" width="1" height="6" fill="#c0c0c0"/><rect x="853" y="678" width="1" height="11" fill="#c0c0c0"/><rect x="861" y="673" width="1" height="16" fill="#c0c0c0"/><rect x="869" y="668" width="1" height="21" fill="#c0c0c0"/><rect x="877" y="661" width="1" height="28" fill="#c0c0c0"/><rect x="885" y="647" width="1" height="42" fill="#c0c0c0"/><rect x="893" y="632" width="1" height="57" fill="#c0c0c0"/><rect x="901" y="625" width="1" height="64" fill="#c0c0c0"/><rect x="909" y="625" width="1" height="64" fill="#c0c0c0"/><rect x="917" y="623" width="1" height="66" fill="#c0c0c0"/><rect x="925" y="626" width="1" height="63" fill="#c0c0c0"/><rect x="933" y="630" width="1" height="59" fill="#c0c0c0"/><rect x="941" y="634" width="1" height="55" fill="#c0c0c0"/><rect x="949" y="641" width="1" height="48" fill="#c0c0c0"/><rect x="957" y="654" width="1" height="35" fill="#c0c0c0"/><rect x="965" y="666" width="1" height="23" fill="#c0c0c0"/><rect x="973" y="658" width="1" height="31" fill="#c0c0c0"/><rect x="981" y="665" width="1" height="24" fill="#c0c0c0"/><rect x="989" y="655" width="1" height="34" fill="#c0c0c0"/><rect x="997" y="650" width="1" height="39" fill="#c0c0c0"/><rect x="1005" y="645" width="1" height="44" fill="#c0c0c0"/><rect x="1013" y="640" width="1" height="49" fill="#c0c0c0"/><rect x="1021" y="639" width="1" height="50" fill="#c0c0c0"/><rect x="1029" y="639" width="1" height="50" fill="#c0c0c0"/><rect x="1037" y="644" width="1" height="45" fill="#c0c0c0"/><rect x="1045" y="653" width="1" height="36" fill="#c0c0c0"/><rect x="1053" y="655" width="1" height="34" fill="#c0c0c0"/><rect x="1061" y="657" width="1" height="32" fill="#c0c0c0"/><rect x="1069" y="659" width="1" height="30" fill="#c0c0c0"/><rect x="1077" y="661" width="1" height="28" fill="#c0c0c0"/><rect x="1085" y="667" width="1" height="22" fill="#c0c0c0"/><rect x="1093" y="678" width="1" height="11" fill="#c0c0c0"/><rect x="1109" y="688" width="1" height="11" fill="#c0c0c0"/><rect x="1117" y="688" width="1" height="14" fill="#c0c0c0"/><rect x="1125" y="688" width="1" height="13" fill="#c0c0c0"/><rect x="1133" y="688" width="1" height="8" fill="#c0c0c0"/><rect x="1141" y="688" width="1" height="11" fill="#c0c0c0"/><rect x="1149" y="688" width="1" height="17" fill="#c0c0c0"/><rect x="1157" y="688" width="1" height="19" fill="#c0c0c0"/><rect x="1165" y="688" width="1" height="21" fill="#c0c0c0"/><rect x="1173" y="688" width="1" height="21" fill="#c0c0c0"/><rect x="1181" y="688" width="1" height="19" fill="#c0c0c0"/><rect x="1189" y="688" width="1" height="21" fill="#c0c0c0"/><rect x="1197" y="688" width="1" height="19" fill="#c0c0c0"/><rect x="1205" y="688" width="1" height="18" fill="#c0c0c0"/><rect x="1213" y="688" width="1" height="16" fill="#c0c0c0"/><rect x="1221" y="688" width="1" height="17" fill="#c0c0c0"/><rect x="1229" y="688" width="1" height="19" fill="#c0c0c0"/><rect x="1237" y="688" width="1" height="23" fill="#c0c0c0"/><rect x="1245" y="688" width="1" height="26" fill="#c0c0c0"/><rect x="1253" y="688" width="1" height="29" fill="#c0c0c0"/><rect x="1261" y="688" width="1" height="34" fill="#c0c0c0"/><rect x="1269" y="688" width="1" height="39" fill="#c0c0c0"/><rect x="1277" y="688" width="1" height="44" fill="#c0c0c0"/><rect x="1285" y="688" width="1" height="45" fill="#c0c0c0"/><rect x="1293" y="688" width="1" height="45" fill="#c0c0c0"/><rect x="1301" y="688" width="1" height="44" fill="#c0c0c0"/><rect x="1309" y="688" width="1" height="36" fill="#c0c0c0"/><rect x="1317" y="688" width="1" height="28" fill="#c0c0c0"/><rect x="1325" y="688" width="1" height="23" fill="#c0c0c0"/><rect x="1333" y="688" width="1" height="10" fill="#c0c0c0"/><rect x="1349" y="685" width="1" height="4" fill="#c0c0c0"/><rect x="1357" y="684" width="1" height="5" fill="#c0c0c0"/><rect x="1381" y="688" width="1" height="4" fill="#c0c0c0"/><rect x="1389" y="688" width="1" height="6" fill="#c0c0c0"/><rect x="1397" y="688" width="1" height="10" fill="#c0c0c0"/><rect x="1405" y="688" width="1" height="17" fill="#c0c0c0"/><rect x="1413" y="688" width="1" height="26" fill="#c0c0c0"/><rect x="1421" y="688" width="1" height="37" fill="#c0c0c0"/><rect x="1429" y="688" width="1" height="49" fill="#c0c0c0"/><rect x="1437" y="688" width="1" height="58" fill="#c0c0c0"/><rect x="1445" y="688" width="1" height="64" fill="#c0c0c0"/></g>
<polyline shape-rendering="crispEdges" points="-2.5,663.5 5.5,665.2 13.5,669.8 21.5,674.5 29.5,679.0 37.5,686.5 45.5,694.0 53.5,702.0 61.5,710.2 69.5,719.0 77.5,727.0 85.5,733.5 93.5,737.2 101.5,739.5 109.5,738.2 117.5,735.2 125.5,731.5 133.5,724.0 141.5,716.5 149.5,708.5 157.5,702.8 165.5,698.5 173.5,695.8 181.5,695.2 189.5,696.5 197.5,699.5 205.5,704.0 213.5,708.2 221.5,712.0 229.5,715.8 237.5,719.0 245.5,722.8 253.5,725.2 261.5,727.2 269.5,728.2 277.5,729.0 285.5,730.2 293.5,730.8 301.5,731.5 309.5,732.0 317.5,732.8 325.5,733.2 333.5,732.8 341.5,732.8 349.5,734.0 357.5,736.0 365.5,738.5 373.5,740.2 381.5,742.2 389.5,743.2 397.5,745.2 405.5,747.8 413.5,748.5 421.5,747.8 429.5,746.0 437.5,743.2 445.5,741.0 453.5,736.5 461.5,732.8 469.5,729.0 477.5,725.8 485.5,721.5 493.5,717.8 501.5,714.5 509.5,711.5 517.5,709.8 525.5,707.2 533.5,705.2 541.5,701.5 549.5,698.2 557.5,695.2 565.5,693.5 573.5,690.2 581.5,685.8 589.5,679.0 597.5,673.5 605.5,669.0 613.5,664.0 621.5,659.5 629.5,656.0 637.5,652.2 645.5,649.0 653.5,645.2 661.5,640.2 669.5,635.2 677.5,629.0 685.5,624.0 693.5,618.5 701.5,613.5 709.5,609.0 717.5,606.0 725.5,604.5 733.5,604.5 741.5,607.8 749.5,612.8 757.5,619.0 765.5,626.5 773.5,634.0 781.5,642.0 789.5,650.2 797.5,660.2 805.5,667.2 813.5,675.2 821.5,682.2 829.5,686.5 837.5,690.2 845.5,692.2 853.5,692.2 861.5,691.0 869.5,687.2 877.5,684.0 885.5,677.0 893.5,669.0 901.5,661.5 909.5,655.2 917.5,647.8 925.5,641.5 933.5,637.0 941.5,633.5 949.5,630.2 957.5,631.5 965.5,635.2 973.5,639.0 981.5,643.2 989.5,645.8 997.5,649.8 1005.5,651.0 1013.5,652.0 1021.5,651.0 1029.5,650.2 1037.5,647.8 1045.5,647.2 1053.5,646.5 1061.5,646.5 1069.5,647.8 1077.5,649.5 1085.5,651.5 1093.5,656.5 1101.5,662.2 1109.5,669.0 1117.5,673.2 1125.5,679.0 1133.5,683.2 1141.5,687.0 1149.5,692.8 1157.5,697.0 1165.5,700.8 1173.5,702.0 1181.5,703.5 1189.5,704.5 1197.5,705.8 1205.5,706.2 1213.5,706.2 1221.5,706.2 1229.5,706.2 1237.5,706.5 1245.5,707.5 1253.5,708.5 1261.5,709.8 1269.5,712.2 1277.5,714.8 1285.5,718.5 1293.5,721.5 1301.5,724.0 1309.5,725.2 1317.5,725.2 1325.5,725.2 1333.5,722.2 1341.5,718.5 1349.5,713.2 1357.5,707.8 1365.5,703.2 1373.5,698.2 1381.5,694.5 1389.5,692.2 1397.5,690.8 1405.5,691.5 1413.5,694.5 1421.5,699.0 1429.5,704.5 1437.5,710.8 1445.5,714.5" fill="none" stroke="#ff0000" stroke-width="1" stroke-dasharray="3 3"/>
<line x1="0" y1="802.5" x2="1625" y2="802.5" stroke="#c0c0c0" stroke-width="1" stroke-dasharray="3 3" shape-rendering="crispEdges"/>
<line x1="0" y1="849.5" x2="1625" y2="849.5" stroke="#c0c0c0" stroke-width="1" stroke-dasharray="3 3" shape-rendering="crispEdges"/>
<line x1="0" y1="905.5" x2="1625" y2="905.5" stroke="#c0c0c0" stroke-width="1" stroke-dasharray="3 3" shape-rendering="crispEdges"/>
<polyline shape-rendering="crispEdges" points="-2.5,853.5 5.5,853.5 13.5,863.0 21.5,861.2 29.5,870.0 37.5,875.5 45.5,873.5 53.5,873.5 61.5,876.2 69.5,883.5 77.5,873.0 85.5,846.2 93.5,850.0 101.5,846.0 109.5,841.2 117.5,836.8 125.5,835.0 133.5,841.2 141.5,852.2 149.5,855.5 157.5,863.0 165.5,847.2 173.5,849.8 181.5,866.2 189.5,860.5 197.5,860.0 205.5,858.5 213.5,863.0 221.5,864.5 229.5,853.8 237.5,859.5 245.5,859.5 253.5,859.5 261.5,865.5 269.5,856.2 277.5,859.2 285.5,863.5 293.5,862.2 301.5,864.2 309.5,865.5 317.5,864.2 325.5,856.2 333.5,859.2 341.5,863.0 349.5,877.2 357.5,882.2 365.5,863.5 373.5,860.0 381.5,867.5 389.5,866.2 397.5,863.0 405.5,857.2 413.5,860.5 421.5,855.5 429.5,858.5 437.5,856.2 445.5,851.8 453.5,851.8 461.5,856.0 469.5,857.5 477.5,849.2 485.5,850.5 493.5,841.8 501.5,840.5 509.5,870.5 517.5,854.2 525.5,844.2 533.5,845.5 541.5,840.5 549.5,845.5 557.5,839.2 565.5,845.5 573.5,836.2 581.5,836.2 589.5,834.2 597.5,834.2 605.5,832.5 613.5,824.2 621.5,839.2 629.5,842.5 637.5,838.0 645.5,832.5 653.5,822.2 661.5,820.0 669.5,815.5 677.5,814.2 685.5,820.5 693.5,833.5 701.5,830.0 709.5,831.2 717.5,834.2 725.5,835.5 733.5,842.2 741.5,851.2 749.5,854.8 757.5,852.5 765.5,854.2 773.5,854.2 781.5,863.5 789.5,859.2 797.5,863.0 805.5,870.5 813.5,855.0 821.5,853.0 829.5,850.5 837.5,834.2 845.5,836.0 853.5,837.2 861.5,835.5 869.5,834.2 877.5,828.5 885.5,816.0 893.5,812.2 901.5,821.8 909.5,832.2 917.5,828.0 925.5,837.2 933.5,840.5 941.5,837.2 949.5,849.2 957.5,857.2 965.5,860.5 973.5,835.5 981.5,851.2 989.5,836.0 997.5,838.5 1005.5,837.2 1013.5,836.2 1021.5,839.2 1029.5,839.8 1037.5,845.5 1045.5,852.2 1053.5,845.5 1061.5,845.5 1069.5,845.5 1077.5,845.5 1085.5,850.5 1093.5,861.0 1101.5,865.5 1109.5,863.0 1117.5,856.8 1125.5,850.5 1133.5,845.5 1141.5,856.2 1149.5,860.5 1157.5,859.2 1165.5,856.2 1173.5,857.2 1181.5,851.2 1189.5,856.2 1197.5,853.8 1205.5,852.5 1213.5,850.0 1221.5,857.2 1229.5,858.5 1237.5,865.0 1245.5,863.5 1253.5,865.0 1261.5,869.8 1269.5,873.8 1277.5,875.5 1285.5,868.5 1293.5,869.2 1301.5,866.2 1309.5,846.2 1317.5,844.2 1325.5,848.5 1333.5,830.0 1341.5,832.2 1349.5,841.8 1357.5,846.8 1365.5,855.5 1373.5,855.5 1381.5,855.5 1389.5,855.5 1397.5,864.2 1405.5,870.5 1413.5,877.2 1421.5,882.2 1429.5,887.5 1437.5,886.2 1445.5,886.2" fill="none" stroke="#1e90ff" stroke-width="1"/>
<rect x="1626" y="51" width="2" height="1" fill="#000"/>
<rect x="1626" y="84" width="2" height="1" fill="#000"/>
<rect x="1626" y="117" width="2" height="1" fill="#000"/>
<rect x="1626" y="150" width="2" height="1" fill="#000"/>
<rect x="1626" y="183" width="2" height="1" fill="#000"/>
<rect x="1626" y="216" width="2" height="1" fill="#000"/>
<rect x="1626" y="249" width="2" height="1" fill="#000"/>
<rect x="1626" y="282" width="2" height="1" fill="#000"/>
<rect x="1626" y="315" width="2" height="1" fill="#000"/>
<rect x="1626" y="348" width="2" height="1" fill="#000"/>
<rect x="1626" y="381" width="2" height="1" fill="#000"/>
<rect x="1626" y="414" width="2" height="1" fill="#000"/>
<rect x="1626" y="447" width="2" height="1" fill="#000"/>
<rect x="1626" y="480" width="2" height="1" fill="#000"/>
<rect x="1626" y="513" width="2" height="1" fill="#000"/>
<rect x="1626" y="546" width="2" height="1" fill="#000"/>
<rect x="1626" y="579" width="2" height="1" fill="#000"/>
<rect x="1626" y="585" width="2" height="1" fill="#000"/>
<rect x="1626" y="688" width="2" height="1" fill="#000"/>
<rect x="1626" y="770" width="2" height="1" fill="#000"/>
<rect x="1626" y="802" width="2" height="1" fill="#000"/>
<rect x="1626" y="849" width="2" height="1" fill="#000"/>
<rect x="1626" y="905" width="2" height="1" fill="#000"/>
<rect x="-3" y="930" width="1" height="3" fill="#000"/>
<rect x="61" y="930" width="1" height="3" fill="#000"/>
<rect x="125" y="930" width="1" height="3" fill="#000"/>
<rect x="189" y="930" width="1" height="3" fill="#000"/>
<rect x="253" y="930" width="1" height="3" fill="#000"/>
<rect x="317" y="930" width="1" height="3" fill="#000"/>
<rect x="381" y="930" width="1" height="3" fill="#000"/>
<rect x="445" y="930" width="1" height="3" fill="#000"/>
<rect x="509" y="930" width="1" height="3" fill="#000"/>
<rect x="573" y="930" width="1" height="3" fill="#000"/>
<rect x="637" y="930" width="1" height="3" fill="#000"/>
<rect x="701" y="930" width="1" height="3" fill="#000"/>
<rect x="765" y="930" width="1" height="3" fill="#000"/>
<rect x="829" y="930" width="1" height="3" fill="#000"/>
<rect x="893" y="930" width="1" height="3" fill="#000"/>
<rect x="957" y="930" width="1" height="3" fill="#000"/>
<rect x="1021" y="930" width="1" height="3" fill="#000"/>
<rect x="1085" y="930" width="1" height="3" fill="#000"/>
<rect x="1149" y="930" width="1" height="3" fill="#000"/>
<rect x="1213" y="930" width="1" height="3" fill="#000"/>
<rect x="1277" y="930" width="1" height="3" fill="#000"/>
<rect x="1341" y="930" width="1" height="3" fill="#000"/>
<rect x="1405" y="930" width="1" height="3" fill="#000"/>
<polygon points="1456,30 1466,30 1461,35" fill="#c0c0c0"/></svg>
<div id="tb"></div><div id="tbl"></div>
<svg width="1672" height="25" viewBox="0 0 1672 25" style="position:absolute;left:0;top:0">
<defs>
<linearGradient id="gG" x1="0" y1="0" x2="0" y2="1"><stop offset="0" stop-color="#7cf07c"/><stop offset="1" stop-color="#14a014"/></linearGradient>
<linearGradient id="gY" x1="0" y1="0" x2="1" y2="1"><stop offset="0" stop-color="#ffe060"/><stop offset="1" stop-color="#b87800"/></linearGradient>
<linearGradient id="gB" x1="0" y1="0" x2="0" y2="1"><stop offset="0" stop-color="#58b8f8"/><stop offset="1" stop-color="#1060d0"/></linearGradient>
<radialGradient id="gL" cx="0.4" cy="0.35" r="0.7"><stop offset="0" stop-color="#f4fbff"/><stop offset="1" stop-color="#a8d0f4"/></radialGradient>
<linearGradient id="gS" x1="0" y1="0" x2="0" y2="1"><stop offset="0" stop-color="#ffffff"/><stop offset="0.55" stop-color="#f0f0f4"/><stop offset="1" stop-color="#c8c8d8"/></linearGradient>
<linearGradient id="gC" x1="0.2" y1="0" x2="0.8" y2="1"><stop offset="0" stop-color="#58a8f8"/><stop offset="0.5" stop-color="#2468d8"/><stop offset="1" stop-color="#1040a0"/></linearGradient>
</defs>
<path d="M-2 5.5H5L8 8.5V15H-2Z" fill="#fbfbfb" stroke="#a0a0a0" stroke-width="1"/><path d="M0 9H5M0 11.5H5" stroke="#b0b0b0" stroke-width="1"/>
<path d="M4.2 11.8H7.8V15.7H11.8V19.3H7.8V22.6H4.2V19.3H-0.5V15.7H4.2Z" fill="url(#gG)" stroke="#0c7c0c" stroke-width="0.9"/>
<text x="15" y="16.2" font-size="12px" font-weight="500" fill="#000" font-family="'Liberation Sans','Noto Sans CJK SC',sans-serif">新订单</text>
<path d="M69 6L79 13L71.5 20.3L63 15C65.5 12 66 9 69 6Z" fill="url(#gY)" stroke="#a87000" stroke-width="0.8"/><path d="M69.3 8.3L76.5 13.2L71.3 18L65.3 14.3Z" fill="#ffe870" opacity="0.75"/><path d="M63 15L71.5 20.5L79 13.5L79 15L71.5 21.8L63 16.4Z" fill="#c89020"/>
<path d="M94 5H103L104.5 6.5V16H94Z" fill="url(#gB)" stroke="#1868c8" stroke-width="0.8"/><path d="M97 8.5H102.5M97 11H102.5" stroke="#e8f4ff" stroke-width="1.2"/><path d="M95 5V16" stroke="#bfe4ff" stroke-width="1.5"/>
<path d="M93.5 21C90.5 21 90.5 16.8 93.5 16.8C94 14.2 98 14 99 16C101 13.8 104.5 15 104.3 17C107.5 17 107.5 21 104.5 21Z" fill="#f4f8fc" stroke="#5888c8" stroke-width="0.9"/>
<g fill="none" stroke-linecap="round"><path d="M121.5 18.5A7.6 7.6 0 0 1 127 5.4" stroke="#88a8e0" stroke-width="1.3"/><path d="M124 16.5A4.6 4.6 0 0 1 127 8.4" stroke="#4878d8" stroke-width="1.4"/><path d="M127 5.4A7.6 7.6 0 0 1 129 20.3" stroke="#78c078" stroke-width="1.6"/><path d="M127 8.4A4.6 4.6 0 0 1 128.5 17.3" stroke="#58a868" stroke-width="1.4"/></g>
<circle cx="127" cy="13" r="1.8" fill="#2858d0"/><path d="M127 13V20.5H129.5" stroke="#20a030" stroke-width="1.6" fill="none"/>
<path d="M147.5 14.5L161 13.5L156.5 20.5L153 20Z" fill="#f8d850" stroke="#c8a020" stroke-width="0.7"/>
<path d="M146.5 11.5C148 9 150 8 150.5 6.5C151.5 4.5 157 4.5 157.5 7C158.5 8.5 161 8.5 162 9.5C162 12 157 13.6 153.5 13.6C150 13.6 146.5 13.5 146.5 11.5Z" fill="#58a8e0" stroke="#3880c0" stroke-width="0.7"/><path d="M150.5 8.5C152.5 10 156 9.8 157.8 8.2" stroke="#2870b8" stroke-width="1" fill="none"/>
<circle cx="158.5" cy="16.8" r="4.1" fill="#e02010"/><rect x="156.8" y="15.1" width="3.4" height="3.4" fill="#fff"/>
<text x="167.5" y="16.2" font-size="12px" font-weight="500" fill="#000" font-family="'Liberation Sans','Noto Sans CJK SC',sans-serif">自动交易</text>
<rect x="222" y="0" width="1" height="25" fill="#a0a0a0"/><rect x="223" y="0" width="1" height="25" fill="#fafafa"/>
<rect x="226" y="3" width="3" height="1" fill="#b4b4b4"/>
<rect x="226" y="5" width="3" height="1" fill="#b4b4b4"/>
<rect x="226" y="7" width="3" height="1" fill="#b4b4b4"/>
<rect x="226" y="9" width="3" height="1" fill="#b4b4b4"/>
<rect x="226" y="11" width="3" height="1" fill="#b4b4b4"/>
<rect x="226" y="13" width="3" height="1" fill="#b4b4b4"/>
<rect x="226" y="15" width="3" height="1" fill="#b4b4b4"/>
<rect x="226" y="17" width="3" height="1" fill="#b4b4b4"/>
<rect x="226" y="19" width="3" height="1" fill="#b4b4b4"/>
<rect x="226" y="21" width="3" height="1" fill="#b4b4b4"/>
<g fill="none" stroke="#505050" stroke-width="1.3"><path d="M240.5 8V20.5M238.0 18.5H250.5"/></g>
<polygon points="238.5,9.5 240.5,6.5 242.5,9.5" fill="#505050"/><polygon points="249.5,16.5 252.5,18.5 249.5,20.5" fill="#505050"/>
<path d="M247.5 9V16M247.5 9.5H250M245 15.5H247.5" stroke="#18901c" stroke-width="1.5" fill="none"/>
<rect x="260" y="1" width="25" height="22" fill="#f8f8f8"/>
<rect x="260" y="1" width="25" height="1" fill="#a8a8a8"/><rect x="260" y="1" width="1" height="22" fill="#a8a8a8"/>
<rect x="260" y="22" width="25" height="1" fill="#fff"/><rect x="284" y="1" width="1" height="22" fill="#fff"/>
<g fill="none" stroke="#505050" stroke-width="1.3"><path d="M268.5 8V20.5M266.0 18.5H278.5"/></g>
<polygon points="266.5,9.5 268.5,6.5 270.5,9.5" fill="#505050"/><polygon points="277.5,16.5 280.5,18.5 277.5,20.5" fill="#505050"/>
<path d="M274.5 5V17" stroke="#109018" stroke-width="1.2"/><rect x="272.3" y="7.2" width="4.6" height="7.4" fill="url(#gG)" stroke="#109018" stroke-width="0.9"/>
<g fill="none" stroke="#505050" stroke-width="1.3"><path d="M296.3 8V20.5M293.8 18.5H306.3"/></g>
<polygon points="294.3,9.5 296.3,6.5 298.3,9.5" fill="#505050"/><polygon points="305.3,16.5 308.3,18.5 305.3,20.5" fill="#505050"/>
<path d="M295 15.5C298 13 299.5 10 301.5 10.2C303.5 10.4 304.5 13 307 14" stroke="#2a9a34" stroke-width="1.3" fill="none"/>
<rect x="317" y="2" width="1" height="21" fill="#a0a0a0"/><rect x="318" y="2" width="1" height="21" fill="#fafafa"/>
<path d="M335.8 14.5L341.3 20" stroke="#c8a020" stroke-width="2.6" stroke-linecap="round"/><path d="M336.1 14.2L340.90000000000003 19" stroke="#f4e070" stroke-width="0.9"/>
<circle cx="332.3" cy="10.9" r="5.4" fill="url(#gL)" stroke="#3a70d0" stroke-width="1.3"/>
<path d="M329.3 10.9H335.3" stroke="#2c68c8" stroke-width="1.7"/>
<path d="M332.3 7.9V13.9" stroke="#2c68c8" stroke-width="1.7"/>
<path d="M364.0 14.5L369.5 20" stroke="#c8a020" stroke-width="2.6" stroke-linecap="round"/><path d="M364.3 14.2L369.1 19" stroke="#f4e070" stroke-width="0.9"/>
<circle cx="360.5" cy="10.9" r="5.4" fill="url(#gL)" stroke="#3a70d0" stroke-width="1.3"/>
<path d="M357.5 10.9H363.5" stroke="#2c68c8" stroke-width="1.7"/>
<rect x="382.3" y="5.2" width="7.5" height="7.5" fill="#58b030"/><rect x="383.6" y="8.0" width="4.9" height="3.4" fill="#fff" opacity="0.92"/><path d="M384.5 9.8H387.7" stroke="#888" stroke-width="0.8"/>
<rect x="390.8" y="5.2" width="7.5" height="7.5" fill="#2858d0"/><rect x="392.1" y="8.0" width="4.9" height="3.4" fill="#fff" opacity="0.92"/><path d="M393.0 9.8H396.2" stroke="#888" stroke-width="0.8"/>
<rect x="382.3" y="13.5" width="7.5" height="7.5" fill="#2858d0"/><rect x="383.6" y="16.3" width="4.9" height="3.4" fill="#fff" opacity="0.92"/><path d="M384.5 18.1H387.7" stroke="#888" stroke-width="0.8"/>
<rect x="390.8" y="13.5" width="7.5" height="7.5" fill="#58b030"/><rect x="392.1" y="16.3" width="4.9" height="3.4" fill="#fff" opacity="0.92"/><path d="M393.0 18.1H396.2" stroke="#888" stroke-width="0.8"/>
<rect x="407" y="2" width="1" height="21" fill="#a0a0a0"/><rect x="408" y="2" width="1" height="21" fill="#fafafa"/>
<rect x="412" y="1" width="25" height="22" fill="#f8f8f8"/>
<rect x="412" y="1" width="25" height="1" fill="#a8a8a8"/><rect x="412" y="1" width="1" height="22" fill="#a8a8a8"/>
<rect x="412" y="22" width="25" height="1" fill="#fff"/><rect x="436" y="1" width="1" height="22" fill="#fff"/>
<g fill="none" stroke="#505050" stroke-width="1.3"><path d="M420.5 8V20.5M418 18.5H431"/></g><polygon points="418.5,9.5 420.5,6.5 422.5,9.5" fill="#505050"/><polygon points="430,16.5 433,18.5 430,20.5" fill="#505050"/>
<polygon points="425.5,9.5 430,12.3 425.5,15.2" fill="#48c048" stroke="#109018" stroke-width="0.9"/>
<rect x="440" y="1" width="25" height="22" fill="#f8f8f8"/>
<rect x="440" y="1" width="25" height="1" fill="#a8a8a8"/><rect x="440" y="1" width="1" height="22" fill="#a8a8a8"/>
<rect x="440" y="22" width="25" height="1" fill="#fff"/><rect x="464" y="1" width="1" height="22" fill="#fff"/>
<g fill="none" stroke="#505050" stroke-width="1.3"><path d="M448.5 8V20.5M446 18.5H459"/></g><polygon points="446.5,9.5 448.5,6.5 450.5,9.5" fill="#505050"/><polygon points="458,16.5 461,18.5 458,20.5" fill="#505050"/>
<path d="M454.5 7V17.5" stroke="#2060c0" stroke-width="1.3"/><path d="M460 12.5H456.2" stroke="#e03010" stroke-width="1.2"/><polygon points="455.6,12.5 458.2,10.5 458.2,14.5" fill="#e03010"/>
<rect x="469" y="2" width="1" height="21" fill="#a0a0a0"/><rect x="470" y="2" width="1" height="21" fill="#fafafa"/>
<path d="M479.8 5.3H487.5L490.8 8.6V18.6H479.8Z" fill="#fcfcfc" stroke="#9c9c9c" stroke-width="0.9"/><path d="M487.5 5.3V8.6H490.8" fill="#e8e8e8" stroke="#9c9c9c" stroke-width="0.8"/><path d="M484 8.5C482.6 8.5 483 11.2 481.8 11.6C483 12 482.6 15 484 15" fill="none" stroke="#505050" stroke-width="0.9"/><path d="M483.3 11.6H485.3" stroke="#505050" stroke-width="0.8"/>
<path d="M487.4 11.5H490.9V15.3H494.8V18.8H490.9V22.4H487.4V18.8H483.4V15.3H487.4Z" fill="url(#gG)" stroke="#0c7c0c" stroke-width="0.9"/>
<polygon points="500.3,11.5 506.8,11.5 503.55,15" fill="#000"/>
<circle cx="525" cy="12.8" r="7.3" fill="url(#gC)" stroke="#1c4ca8" stroke-width="0.9"/><circle cx="525" cy="12.8" r="5" fill="#f6f9ff" stroke="#9cb8e8" stroke-width="0.6"/><path d="M525 9.2V13.2H528" stroke="#303030" stroke-width="1.1" fill="none"/><g stroke="#8090a8" stroke-width="0.7"><path d="M525 8.3V9M525 16.6V17.3M520.5 12.8H521.2M528.8 12.8H529.5"/></g>
<polygon points="539.2,11.5 545.7,11.5 542.45,15" fill="#000"/>
<rect x="556.6" y="6.4" width="15" height="13.2" fill="#fbfdff" stroke="#3870c8" stroke-width="1.1"/><rect x="556.6" y="6.4" width="15" height="2.4" fill="#5090e0"/><path d="M556.6 13.9H571.6" stroke="#3870c8" stroke-width="1"/><path d="M558.3 12L560.5 11.8L562 10.7L564 10.2L566 11L568 10.5L570 9.8" stroke="#a02810" stroke-width="1.2" fill="none"/><path d="M558.8 17.5L561 17L562.5 16L564.5 17L566.5 15.2L568 15.6L569.8 17.3" stroke="#109020" stroke-width="1.2" fill="none"/>
<polygon points="578.3,11.5 584.8,11.5 581.55,15" fill="#000"/>
<rect x="590" y="0" width="1" height="25" fill="#a0a0a0"/><rect x="591" y="0" width="1" height="25" fill="#fafafa"/>
<rect x="594" y="3" width="3" height="1" fill="#b4b4b4"/>
<rect x="594" y="5" width="3" height="1" fill="#b4b4b4"/>
<rect x="594" y="7" width="3" height="1" fill="#b4b4b4"/>
<rect x="594" y="9" width="3" height="1" fill="#b4b4b4"/>
<rect x="594" y="11" width="3" height="1" fill="#b4b4b4"/>
<rect x="594" y="13" width="3" height="1" fill="#b4b4b4"/>
<rect x="594" y="15" width="3" height="1" fill="#b4b4b4"/>
<rect x="594" y="17" width="3" height="1" fill="#b4b4b4"/>
<rect x="594" y="19" width="3" height="1" fill="#b4b4b4"/>
<rect x="594" y="21" width="3" height="1" fill="#b4b4b4"/>
<rect x="600" y="1" width="25" height="22" fill="#f8f8f8"/>
<rect x="600" y="1" width="25" height="1" fill="#a8a8a8"/><rect x="600" y="1" width="1" height="22" fill="#a8a8a8"/>
<rect x="600" y="22" width="25" height="1" fill="#fff"/><rect x="624" y="1" width="1" height="22" fill="#fff"/>
<path d="M608.5 6.5V19L611.5 16.3L613.7 21L615.6 20.1L613.5 15.6L617.3 15.3Z" fill="#404040"/>
<path d="M640.5 6.5V20M633 13.5H648" stroke="#404040" stroke-width="1"/><rect x="639" y="12" width="3" height="3" fill="#f0f0f0"/><path d="M640.5 11V16M638 13.5H643" stroke="#404040" stroke-width="1"/>
<rect x="657" y="2" width="1" height="21" fill="#a0a0a0"/><rect x="658" y="2" width="1" height="21" fill="#fafafa"/>
<path d="M674.5 7V20" stroke="#404040" stroke-width="1.2"/>
<path d="M697 13.5H709" stroke="#404040" stroke-width="1.2"/>
<path d="M725 19.8L737 8" stroke="#404040" stroke-width="1.2"/>
<g stroke="#505050" stroke-width="1" fill="none"><path d="M751 16L763 6M752.5 19.5L764.5 9.5"/><path d="M754 13L756 19M757 10.5L759 16.5M760 8L762 14" /></g><text x="762.5" y="22" font-size="7px" font-weight="bold" fill="#303030" font-family="'Liberation Sans',sans-serif">E</text>
<g stroke="#505050" stroke-width="1" stroke-dasharray="1 1"><path d="M780 6.5H794M780 10.5H794M780 14.5H794M780 18H790"/></g><text x="789.5" y="22" font-size="7px" font-weight="bold" fill="#303030" font-family="'Liberation Sans',sans-serif">F</text>
<text x="811" y="17.7" font-size="12px" font-weight="bold" textLength="7.7" lengthAdjust="spacingAndGlyphs" fill="#484848" font-family="'Liberation Sans',sans-serif">A</text>
<path d="M837 7.5H849M837 19.5H849M837.5 8V19M848.5 8V19" fill="none" stroke="#505050" stroke-width="1" stroke-dasharray="1 1" shape-rendering="crispEdges"/><text x="839.6" y="17.8" font-size="11px" font-weight="bold" fill="#484848" font-family="'Liberation Sans',sans-serif">T</text>
<polygon points="864,10 867.5,6.5 871,10 867.5,13" fill="#404040"/><polygon points="871.5,16.5 875,13 878.5,16.5 875,20" fill="#404040"/><path d="M867 14.5L869.3 17.2L873.5 11" stroke="#404040" stroke-width="1.3" fill="none"/>
<polygon points="884.3,11.5 890.8,11.5 887.55,15" fill="#000"/>
<rect x="896" y="0" width="1" height="25" fill="#a0a0a0"/><rect x="897" y="0" width="1" height="25" fill="#fafafa"/>
<rect x="900" y="3" width="3" height="1" fill="#b4b4b4"/>
<rect x="900" y="5" width="3" height="1" fill="#b4b4b4"/>
<rect x="900" y="7" width="3" height="1" fill="#b4b4b4"/>
<rect x="900" y="9" width="3" height="1" fill="#b4b4b4"/>
<rect x="900" y="11" width="3" height="1" fill="#b4b4b4"/>
<rect x="900" y="13" width="3" height="1" fill="#b4b4b4"/>
<rect x="900" y="15" width="3" height="1" fill="#b4b4b4"/>
<rect x="900" y="17" width="3" height="1" fill="#b4b4b4"/>
<rect x="900" y="19" width="3" height="1" fill="#b4b4b4"/>
<rect x="900" y="21" width="3" height="1" fill="#b4b4b4"/>
<rect x="1074" y="1" width="25" height="22" fill="#f8f8f8"/>
<rect x="1074" y="1" width="25" height="1" fill="#a8a8a8"/><rect x="1074" y="1" width="1" height="22" fill="#a8a8a8"/>
<rect x="1074" y="22" width="25" height="1" fill="#fff"/><rect x="1098" y="1" width="1" height="22" fill="#fff"/>
<text x="917.7" y="17.4" text-anchor="middle" font-size="9.6px" fill="#383838" font-family="'Liberation Sans',sans-serif">M1</text>
<text x="945.9" y="17.4" text-anchor="middle" font-size="9.6px" fill="#383838" font-family="'Liberation Sans',sans-serif">M5</text>
<text x="974.2" y="17.4" text-anchor="middle" font-size="9.6px" fill="#383838" font-family="'Liberation Sans',sans-serif">M15</text>
<text x="1002.4" y="17.4" text-anchor="middle" font-size="9.6px" fill="#383838" font-family="'Liberation Sans',sans-serif">M30</text>
<text x="1030.4" y="17.4" text-anchor="middle" font-size="9.6px" fill="#383838" font-family="'Liberation Sans',sans-serif">H1</text>
<text x="1057.6" y="17.4" text-anchor="middle" font-size="9.6px" fill="#383838" font-family="'Liberation Sans',sans-serif">H4</text>
<text x="1086.4" y="17.4" text-anchor="middle" font-size="9.6px" fill="#383838" font-family="'Liberation Sans',sans-serif">D1</text>
<text x="1115" y="17.4" text-anchor="middle" font-size="9.6px" fill="#383838" font-family="'Liberation Sans',sans-serif">W1</text>
<text x="1142" y="17.4" text-anchor="middle" font-size="9.6px" fill="#383838" font-family="'Liberation Sans',sans-serif">MN</text>
<rect x="1157" y="2" width="1" height="21" fill="#a0a0a0"/><rect x="1158" y="2" width="1" height="21" fill="#fafafa"/>
<circle cx="1627.4" cy="10.3" r="4" fill="#f4f4f4" stroke="#2c60d8" stroke-width="1.1"/><path d="M1624.3 13.5L1620.3 17.6" stroke="#2858d0" stroke-width="2.3" stroke-linecap="round"/>
<path d="M1655 9.5C1655 4.5 1666.5 4.5 1666.5 9.5C1666.5 12.5 1664 13.3 1663.7 13.3L1664.3 16L1661 13.6C1657 13.8 1655 12 1655 9.5Z" fill="url(#gS)" stroke="#8a8a8a" stroke-width="0.9"/>
<path d="M1646.5 14.5C1646.5 10 1656.5 10 1656.5 14.5C1656.5 17.5 1652.5 18.2 1650.8 18L1648.3 20L1648.8 17.4C1647.2 16.8 1646.5 15.8 1646.5 14.5Z" fill="url(#gS)" stroke="#808080" stroke-width="0.9"/>
</svg>
<div class="ax" style="left:1631.5px;top:45.5px;">1.33885</div>
<div class="ax" style="left:1631.5px;top:78.5px;">1.33300</div>
<div class="ax" style="left:1631.5px;top:111.5px;">1.32700</div>
<div class="ax" style="left:1631.5px;top:144.5px;">1.32115</div>
<div class="ax" style="left:1631.5px;top:177.5px;">1.31515</div>
<div class="ax" style="left:1631.5px;top:210.5px;">1.30930</div>
<div class="ax" style="left:1631.5px;top:243.5px;">1.30330</div>
<div class="ax" style="left:1631.5px;top:276.5px;">1.29745</div>
<div class="ax" style="left:1631.5px;top:309.5px;">1.29145</div>
<div class="ax" style="left:1631.5px;top:342.5px;">1.28560</div>
<div class="ax" style="left:1631.5px;top:375.5px;">1.27960</div>
<div class="ax" style="left:1631.5px;top:408.5px;">1.27375</div>
<div class="ax" style="left:1631.5px;top:441.5px;">1.26775</div>
<div class="ax" style="left:1631.5px;top:474.5px;">1.26175</div>
<div class="ax" style="left:1631.5px;top:507.5px;">1.25590</div>
<div class="ax" style="left:1631.5px;top:540.5px;">1.24990</div>
<div class="ax" style="left:1631.5px;top:573.5px;">1.24405</div>
<div class="ax" style="left:1629px;top:585px;">0.012312</div>
<div class="ax" style="left:1629px;top:682px;">0.00</div>
<div class="ax" style="left:1629px;top:754px;">-0.009328</div>
<div class="ax" style="left:1629px;top:770px;">100</div>
<div class="ax" style="left:1629px;top:796px;">80</div>
<div class="ax" style="left:1629px;top:843px;">50</div>
<div class="ax" style="left:1629px;top:899px;">15</div>
<div class="ax" style="left:1629px;top:916px;">0</div>
<div class="tag" style="top:339px;background:#ff0000"><span>1.28611</span></div>
<div class="tag" style="top:372px;background:#ff0000"><span>1.28019</span></div>
<div class="tag" style="top:392px;background:#32cd32"><span>1.27660</span></div>
<div class="tag" style="top:446px;background:#0000ff"><span>1.26692</span></div>
<div class="tag" style="top:478px;background:#0000ff"><span>1.26118</span></div>
<div class="tag" style="top:416px;background:#000000"><span>1.27250</span></div>
<div class="dt" style="left:-4px;top:932.3px;">19 Oct 2018</div>
<div class="dt" style="left:60px;top:932.3px;">29 Oct 2018</div>
<div class="dt" style="left:124px;top:932.3px;">7 Nov 2018</div>
<div class="dt" style="left:188px;top:932.3px;">16 Nov 2018</div>
<div class="dt" style="left:252px;top:932.3px;">26 Nov 2018</div>
<div class="dt" style="left:316px;top:932.3px;">5 Dec 2018</div>
<div class="dt" style="left:380px;top:932.3px;">14 Dec 2018</div>
<div class="dt" style="left:444px;top:932.3px;">24 Dec 2018</div>
<div class="dt" style="left:508px;top:932.3px;">2 Jan 2019</div>
<div class="dt" style="left:572px;top:932.3px;">11 Jan 2019</div>
<div class="dt" style="left:636px;top:932.3px;">21 Jan 2019</div>
<div class="dt" style="left:700px;top:932.3px;">30 Jan 2019</div>
<div class="dt" style="left:764px;top:932.3px;">8 Feb 2019</div>
<div class="dt" style="left:828px;top:932.3px;">18 Feb 2019</div>
<div class="dt" style="left:892px;top:932.3px;">27 Feb 2019</div>
<div class="dt" style="left:956px;top:932.3px;">8 Mar 2019</div>
<div class="dt" style="left:1020px;top:932.3px;">18 Mar 2019</div>
<div class="dt" style="left:1084px;top:932.3px;">27 Mar 2019</div>
<div class="dt" style="left:1148px;top:932.3px;">5 Apr 2019</div>
<div class="dt" style="left:1212px;top:932.3px;">15 Apr 2019</div>
<div class="dt" style="left:1276px;top:932.3px;">25 Apr 2019</div>
<div class="dt" style="left:1340px;top:932.3px;">5 May 2019</div>
<div class="dt" style="left:1404px;top:932.3px;">14 May 2019</div>
<div class="ti" style="left:12px;top:31.6px;transform:scaleX(0.949)">GBPUSD-,Daily&nbsp; 1.27282 1.27564 1.27139 1.27250</div>
<div class="ti" style="left:1.5px;top:587.6px;transform:scaleX(0.942)">MACD(12,26,9) -0.007522 -0.003422</div>
<div class="ti" style="left:1.3px;top:772.6px;">RSI(14) 26.5982</div>
<div class="big cj" style="left:1133px;top:399px">多空转折点</div>
<div class="big dg" style="left:1297px;top:399.5px">1.27660</div>
<svg width="8" height="5" style="position:absolute;left:0;top:35px"><polygon points="0,4.5 3.5,0.5 7,4.5" fill="#000"/></svg>
<div id="oct">
<div class="bt" style="left:0;width:52px">SELL</div>
<div class="bt" style="left:168px;width:51px;box-sizing:border-box;padding-right:3px">BUY</div>
<div class="ul" style="left:4px;width:44px"></div><div class="ul" style="left:171px;width:44px"></div>
<div class="sp"><div class="sb" style="left:0"><i class="dn"></i></div><div class="sv">1.00</div><div class="sb" style="right:0"><i class="up"></i></div></div>
<div class="pb" style="left:0;width:109px"><span class="s1" style="left:20px">1.27</span><span class="s2" style="left:47px">25</span><span class="s3" style="left:87px">0</span></div>
<div class="pb" style="left:111px;width:108px"><span class="s1" style="left:20px">1.27</span><span class="s2" style="left:47px">27</span><span class="s3" style="left:87px">7</span></div>
</div>
</body></html>
